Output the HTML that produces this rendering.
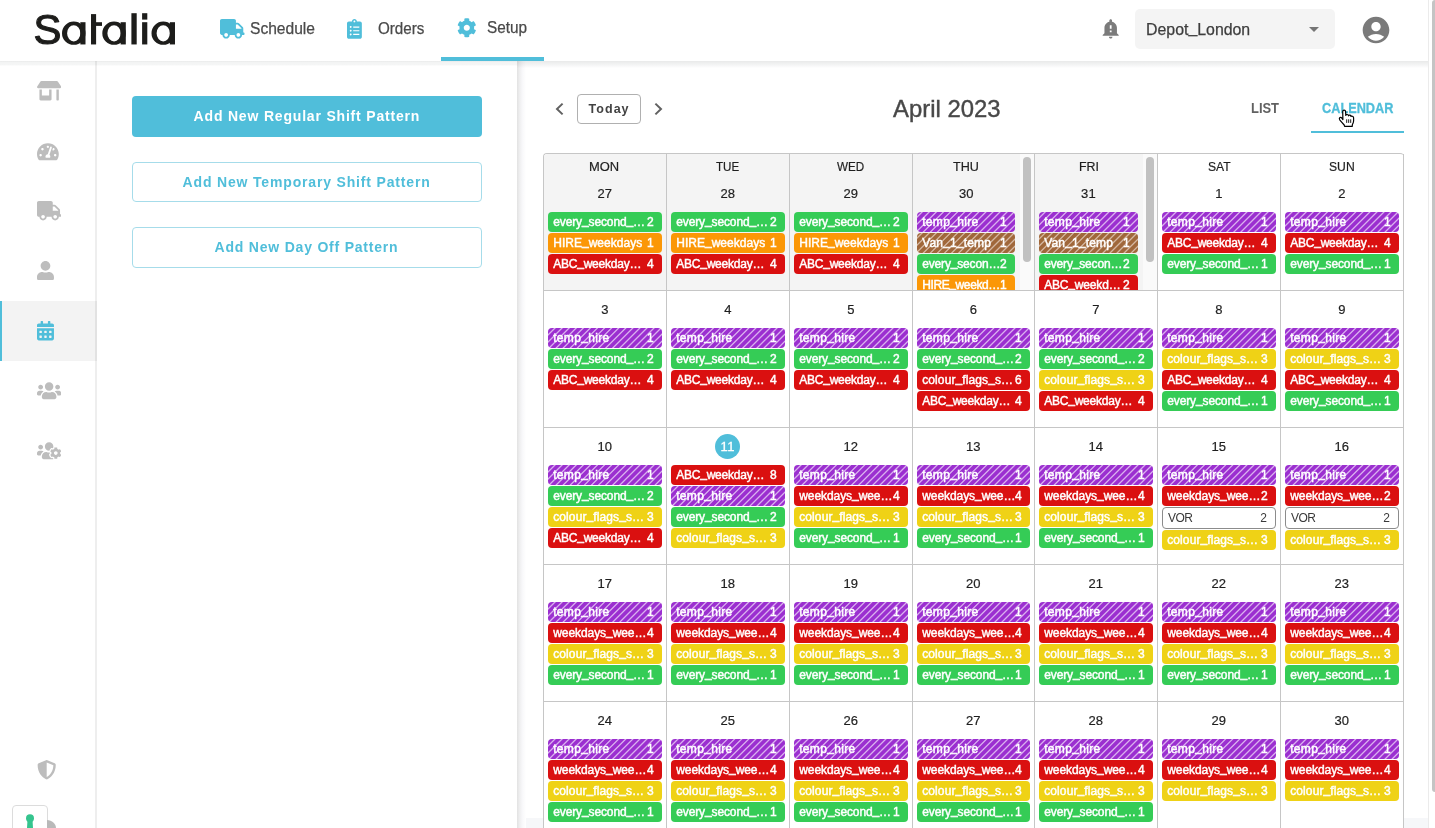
<!DOCTYPE html>
<html lang="en"><head><meta charset="utf-8"><title>Satalia - Setup</title>
<style>
html,body{margin:0;padding:0}
body{width:1435px;height:828px;overflow:hidden;position:relative;background:#fff;font-family:"Liberation Sans", sans-serif;}
.a{position:absolute}
.t{position:absolute;white-space:pre;}
.i{position:absolute;display:block}
u{text-decoration:none;position:relative;top:-0.13em}
.chip{position:absolute;height:20px;border-radius:4px;overflow:hidden}
.chip .t{color:#fff;font-size:12px;line-height:12px;top:3.85px;-webkit-text-stroke:0.45px #fff}
.vor{position:absolute;height:20px;border-radius:4px;border:1px solid #8c8c8c;background:#fff}
.vor .t{color:#3a3a3a;font-size:12px;line-height:12px;top:3.85px}
.g{background:#35cc56}.o{background:#fb9706}.r{background:#da1010}.y{background:#efd216}
.p{background:repeating-linear-gradient(-45deg,#9b2fd0 0.9px,#9b2fd0 3.700px,#d9b0ee 4.6px,#d9b0ee 5px,#9b2fd0 5.900px)}
.b{background:repeating-linear-gradient(-45deg,#a0673a 0.9px,#a0673a 3.700px,#d5b7a1 4.6px,#d5b7a1 5px,#a0673a 5.900px)}
#w{position:absolute;left:0;top:0;width:1435px;height:828px;overflow:hidden;will-change:transform}
</style></head><body><div id="w">
<div class="a" style="left:517px;top:61px;width:911px;height:767px;background:#fff"></div>
<div class="a" style="left:517px;top:818px;width:911px;height:10px;background:#f6f7f9"></div>
<div class="a" style="left:0;top:61px;width:517px;height:5px;background:linear-gradient(#ebecec 0,#eeefef 20%,#f3f4f4 30%,#f5f6f6 75%,#fff)"></div>
<div class="a" style="left:517px;top:61px;width:9px;height:767px;background:linear-gradient(90deg,#e2e2e2,#efeff0 30%,#f8f8fa 60%,#fff)"></div>
<div class="a" style="left:517px;top:61px;width:911px;height:7px;background:linear-gradient(rgba(20,30,30,0.095),rgba(20,30,40,0.045) 60%,rgba(0,0,0,0))"></div>
<div class="a" style="left:0;top:301px;width:97px;height:60px;background:#f3f3f3"></div>
<div class="a" style="left:0;top:301px;width:2px;height:60px;background:#50beda"></div>
<div class="a" style="left:95px;top:61px;width:2px;height:767px;background:rgba(0,0,0,0.065)"></div>
<svg class="i" style="left:36.80px;top:81.30px" width="24.25" height="19.40" viewBox="0 0 640 512"><path fill="#bdbdbd" d="M320 384H128V224H64v256c0 17.700 14.300 32 32 32h256c17.700 0 32-14.300 32-32V224h-64v160zm314.600-241.800l-85.300-128c-6-8.900-16-14.200-26.700-14.200H117.400c-10.700 0-20.700 5.300-26.600 14.200l-85.300 128c-14.200 21.300 1 49.800 26.600 49.800H608c25.500 0 40.700-28.500 26.600-49.800zM512 496c0 8.800 7.200 16 16 16h32c8.800 0 16-7.200 16-16V224h-64v272z"/></svg>
<svg class="i" style="left:36.80px;top:141.60px" width="21.82" height="19.40" viewBox="0 0 576 512"><path fill="#bdbdbd" d="M288 32C128.940 32 0 160.940 0 320c0 52.800 14.250 102.260 39.060 144.800 5.610 9.620 16.300 15.200 27.440 15.200h443c11.140 0 21.830-5.580 27.440-15.200C561.750 422.260 576 372.800 576 320c0-159.060-128.940-288-288-288zm0 64c14.710 0 26.580 10.130 30.320 23.650-1.110 2.260-2.640 4.230-3.450 6.670l-9.220 27.670c-5.130 3.490-10.970 6.010-17.640 6.010-17.670 0-32-14.330-32-32S270.330 96 288 96zM96 384c-17.670 0-32-14.330-32-32s14.330-32 32-32 32 14.330 32 32-14.330 32-32 32zm48-160c-17.670 0-32-14.330-32-32s14.330-32 32-32 32 14.330 32 32-14.330 32-32 32zm246.770-72.410l-61.330 184C343.130 347.330 352 364.540 352 384c0 11.720-3.380 22.550-8.880 32H232.880c-5.500-9.450-8.880-20.280-8.880-32 0-33.940 26.500-61.430 59.900-63.590l61.340-184.010c4.170-12.560 17.730-19.450 30.360-15.170 12.570 4.190 19.350 17.790 15.170 30.360zm14.660 57.200l15.520-46.550c3.470-1.290 7.130-2.230 11.050-2.230 17.670 0 32 14.330 32 32s-14.330 32-32 32c-11.380-.01-20.890-6.280-26.570-15.220zM480 384c-17.670 0-32-14.330-32-32s14.330-32 32-32 32 14.330 32 32-14.330 32-32 32z"/></svg>
<svg class="i" style="left:36.80px;top:201.30px" width="24.25" height="19.40" viewBox="0 0 640 512"><path fill="#bdbdbd" d="M624 352h-16V243.9c0-12.7-5.100-24.9-14.100-33.900L494 110.100c-9-9-21.200-14.100-33.900-14.100H416V48c0-26.500-21.500-48-48-48H48C21.500 0 0 21.500 0 48v320c0 26.500 21.500 48 48 48h16c0 53 43 96 96 96s96-43 96-96h128c0 53 43 96 96 96s96-43 96-96h48c8.800 0 16-7.200 16-16v-32c0-8.800-7.200-16-16-16zM160 464c-26.500 0-48-21.500-48-48s21.500-48 48-48 48 21.500 48 48-21.500 48-48 48zm320 0c-26.500 0-48-21.500-48-48s21.500-48 48-48 48 21.500 48 48-21.500 48-48 48zm80-208H416V144h44.100l99.900 99.900V256z"/></svg>
<svg class="i" style="left:36.80px;top:261.10px" width="16.97" height="19.40" viewBox="0 0 448 512"><path fill="#bdbdbd" d="M224 256c70.700 0 128-57.300 128-128S294.700 0 224 0 96 57.300 96 128s57.300 128 128 128zm89.600 32h-16.700c-22.200 10.200-46.900 16-72.900 16s-50.600-5.800-72.900-16h-16.700C60.200 288 0 348.200 0 422.400V464c0 26.500 21.500 48 48 48h352c26.500 0 48-21.500 48-48v-41.600c0-74.200-60.200-134.400-134.400-134.400z"/></svg>
<svg class="i" style="left:36.80px;top:321.30px" width="16.97" height="19.40" viewBox="0 0 448 512"><path fill="#50beda" d="M0 464c0 26.500 21.500 48 48 48h352c26.500 0 48-21.500 48-48V192H0v272zm320-196c0-6.600 5.400-12 12-12h40c6.600 0 12 5.400 12 12v40c0 6.600-5.400 12-12 12h-40c-6.600 0-12-5.400-12-12v-40zm0 128c0-6.600 5.400-12 12-12h40c6.600 0 12 5.400 12 12v40c0 6.600-5.400 12-12 12h-40c-6.600 0-12-5.400-12-12v-40zM192 268c0-6.600 5.400-12 12-12h40c6.600 0 12 5.400 12 12v40c0 6.600-5.400 12-12 12h-40c-6.600 0-12-5.400-12-12v-40zm0 128c0-6.600 5.400-12 12-12h40c6.600 0 12 5.400 12 12v40c0 6.600-5.400 12-12 12h-40c-6.600 0-12-5.400-12-12v-40zM64 268c0-6.600 5.400-12 12-12h40c6.600 0 12 5.400 12 12v40c0 6.600-5.400 12-12 12H76c-6.600 0-12-5.400-12-12v-40zm0 128c0-6.600 5.400-12 12-12h40c6.600 0 12 5.400 12 12v40c0 6.600-5.400 12-12 12H76c-6.600 0-12-5.400-12-12v-40zM400 64h-48V16c0-8.800-7.200-16-16-16h-32c-8.800 0-16 7.200-16 16v48H160V16c0-8.800-7.200-16-16-16h-32c-8.800 0-16 7.200-16 16v48H48C21.500 64 0 85.500 0 112v48h448v-48c0-26.500-21.500-48-48-48z"/></svg>
<svg class="i" style="left:36.80px;top:380.90px" width="24.25" height="19.40" viewBox="0 0 640 512"><path fill="#bdbdbd" d="M96 224c35.300 0 64-28.700 64-64s-28.700-64-64-64-64 28.700-64 64 28.700 64 64 64zm448 0c35.300 0 64-28.700 64-64s-28.700-64-64-64-64 28.700-64 64 28.700 64 64 64zm32 32h-64c-17.600 0-33.500 7.100-45.100 18.600 40.300 22.100 68.900 62 75.100 109.400h66c17.700 0 32-14.300 32-32v-32c0-35.300-28.700-64-64-64zm-256 0c61.900 0 112-50.100 112-112S381.900 32 320 32 208 82.100 208 144s50.100 112 112 112zm76.800 32h-8.300c-20.800 10-43.900 16-68.500 16s-47.600-6-68.500-16h-8.300C179.600 288 128 339.600 128 403.200V432c0 26.500 21.500 48 48 48h288c26.500 0 48-21.500 48-48v-28.800c0-63.600-51.600-115.200-115.200-115.200zm-223.700-13.400C161.500 263.100 145.600 256 128 256H64c-35.300 0-64 28.700-64 64v32c0 17.700 14.300 32 32 32h65.900c6.300-47.400 34.900-87.300 75.200-109.400z"/></svg>
<svg class="i" style="left:36.80px;top:441.30px" width="24.25" height="19.40" viewBox="0 0 640 512"><path fill="#bdbdbd" d="M610.5 341.3c2.600-14.100 2.600-28.500 0-42.600l25.800-14.900c3-1.700 4.300-5.200 3.300-8.500-6.700-21.600-18.200-41.200-33.200-57.400-2.300-2.500-6-3.100-9-1.400l-25.800 14.900c-10.900-9.300-23.400-16.500-36.900-21.300v-29.800c0-3.400-2.400-6.400-5.700-7.100-22.300-5-45-4.800-66.200 0-3.300.7-5.700 3.700-5.700 7.100v29.800c-13.500 4.800-26 12-36.900 21.300l-25.800-14.900c-2.900-1.700-6.700-1.100-9 1.400-15 16.200-26.500 35.800-33.200 57.400-1 3.300.4 6.800 3.300 8.500l25.800 14.900c-2.600 14.100-2.600 28.500 0 42.600l-25.800 14.900c-3 1.700-4.300 5.200-3.300 8.500 6.700 21.600 18.200 41.100 33.200 57.400 2.300 2.500 6 3.100 9 1.400l25.800-14.900c10.900 9.300 23.400 16.500 36.900 21.300v29.800c0 3.400 2.400 6.400 5.700 7.100 22.300 5 45 4.800 66.200 0 3.300-.7 5.700-3.700 5.700-7.100v-29.800c13.500-4.800 26-12 36.900-21.300l25.800 14.900c2.900 1.700 6.700 1.100 9-1.400 15-16.200 26.500-35.800 33.200-57.400 1-3.300-.4-6.800-3.300-8.500l-25.800-14.900zM496 368.500c-26.800 0-48.500-21.800-48.500-48.500s21.800-48.500 48.500-48.500 48.500 21.800 48.500 48.500-21.700 48.500-48.500 48.500zM96 224c35.300 0 64-28.700 64-64s-28.700-64-64-64-64 28.700-64 64 28.700 64 64 64zm224 32c1.900 0 3.700-.5 5.600-.6 8.300-21.700 20.500-42.100 36.300-59.200 7.400-8 17.900-12.600 28.900-12.600 6.900 0 13.700 1.800 19.600 5.300l7.900 4.600c.8-.5 1.600-.9 2.400-1.400 7-14.600 11.200-30.800 11.200-48 0-61.900-50.100-112-112-112S208 82.100 208 144c0 61.900 50.100 112 112 112zm105.200 194.500c-2.300-1.200-4.600-2.600-6.800-3.900-8.200 4.800-15.300 9.800-27.500 9.800-10.900 0-21.400-4.600-28.900-12.600-18.300-19.800-32.300-43.900-40.200-69.600-10.700-34.500 24.900-49.700 25.800-50.300-.1-2.600-.1-5.200 0-7.800l-7.900-4.600c-3.800-2.200-7-5-9.800-8.100-3.300.2-6.500.6-9.800.6-24.600 0-47.600-6-68.500-16h-8.300C179.600 288 128 339.600 128 403.200V432c0 26.500 21.500 48 48 48h255.400c-3.700-6-6.200-12.800-6.200-20.300v-9.200zM173.100 274.600C161.500 263.100 145.600 256 128 256H64c-35.300 0-64 28.700-64 64v32c0 17.700 14.300 32 32 32h65.900c6.300-47.400 34.900-87.300 75.200-109.400z"/></svg>
<svg class="i" style="left:37.00px;top:760.20px" width="19.40" height="19.40" viewBox="0 0 512 512"><path fill="#bdbdbd" d="M466.5 83.700l-192-80a48.150 48.150 0 0 0-36.900 0l-192 80C27.700 91.100 16 108.600 16 128c0 198.500 114.500 335.700 221.500 380.300 11.800 4.900 25.100 4.900 36.900 0C360.100 472.600 496 349.300 496 128c0-19.400-11.700-36.900-29.500-44.300zM256.100 446.300l-.1-381 175.900 73.300c-3.300 151.400-82.100 261.100-175.800 307.700z"/></svg>
<div class="a" style="left:12px;top:805px;width:34px;height:30px;border:1px solid #dcdcdc;border-radius:4px;background:#fff"></div>
<svg class="i" style="left:20px;top:810px" width="20" height="18" viewBox="0 0 20 18"><circle cx="10" cy="8.3" r="4" fill="#35c48e"/><path d="M7.6 9 L12.400 9 L13 18 L7 18Z" fill="#35c48e"/></svg>
<svg class="i" style="left:47px;top:818px" width="12" height="10" viewBox="0 0 12 10"><path d="M0 2 C5 2 9 6 9 10 L0 10Z" fill="#b9b9b9"/></svg>
<div class="a" style="left:0;top:0;width:1428px;height:61px;background:#fff"></div>
<div class="a" style="left:441px;top:57px;width:103px;height:4px;background:#50beda"></div>
<svg class="i" style="left:30px;top:6px" width="150" height="46" viewBox="30 6 150 46"><text x="33.5" y="44.25" font-family='"Liberation Sans", sans-serif' font-size="41.8" fill="#1d1d1b" stroke="#1d1d1b" stroke-width="1.15" stroke-linejoin="round">S</text><path fill="#1d1d1b" fill-rule="evenodd" d="M62.0 33.2a11.75 11.6 0 1 0 23.500 0a11.75 11.6 0 1 0 -23.500 0zM67.1 33.3a6.65 8.15 0 1 0 13.300 0a6.65 8.15 0 1 0 -13.300 0z"/><rect x="80.35" y="22.2" width="5.15" height="22.25" fill="#1d1d1b"/><path fill="#1d1d1b" fill-rule="evenodd" d="M102.3 33.2a11.75 11.6 0 1 0 23.500 0a11.75 11.6 0 1 0 -23.500 0zM107.39999999999999 33.3a6.65 8.15 0 1 0 13.300 0a6.65 8.15 0 1 0 -13.300 0z"/><rect x="120.64999999999999" y="22.2" width="5.15" height="22.25" fill="#1d1d1b"/><path fill="#1d1d1b" fill-rule="evenodd" d="M151.5 33.2a11.75 11.6 0 1 0 23.500 0a11.75 11.6 0 1 0 -23.500 0zM156.6 33.3a6.65 8.15 0 1 0 13.300 0a6.65 8.15 0 1 0 -13.300 0z"/><rect x="169.85" y="22.2" width="5.15" height="22.25" fill="#1d1d1b"/><rect x="91" y="14.100" width="5.100" height="30.35" fill="#1d1d1b"/><rect x="91" y="22.2" width="11" height="3.700" fill="#1d1d1b"/><rect x="131.4" y="13.2" width="5.300" height="31.25" fill="#1d1d1b"/><rect x="142.100" y="13.2" width="5.200" height="6.400" fill="#1d1d1b"/><rect x="142.100" y="22.2" width="5.200" height="22.25" fill="#1d1d1b"/></svg>
<svg class="i" style="left:220.00px;top:19.00px" width="24.50" height="19.60" viewBox="0 0 640 512"><path fill="#50beda" d="M624 352h-16V243.9c0-12.7-5.100-24.9-14.100-33.900L494 110.100c-9-9-21.200-14.100-33.900-14.100H416V48c0-26.500-21.500-48-48-48H48C21.500 0 0 21.500 0 48v320c0 26.500 21.500 48 48 48h16c0 53 43 96 96 96s96-43 96-96h128c0 53 43 96 96 96s96-43 96-96h48c8.800 0 16-7.200 16-16v-32c0-8.800-7.200-16-16-16zM160 464c-26.500 0-48-21.500-48-48s21.500-48 48-48 48 21.500 48 48-21.500 48-48 48zm320 0c-26.500 0-48-21.500-48-48s21.500-48 48-48 48 21.500 48 48-21.500 48-48 48zm80-208H416V144h44.100l99.900 99.900V256z"/></svg>
<span class="t" style="left:250.40px;top:20.61px;font-size:16px;line-height:16px;font-weight:400;color:#4a4a4a;transform:scaleX(0.9743);transform-origin:0 0;-webkit-text-stroke:0.25px #4a4a4a">Schedule</span>
<svg class="i" style="left:347.00px;top:19.10px" width="14.85" height="19.80" viewBox="0 0 384 512"><path fill="#50beda" d="M336 64h-80c0-35.300-28.700-64-64-64s-64 28.700-64 64H48C21.500 64 0 85.500 0 112v352c0 26.500 21.500 48 48 48h288c26.500 0 48-21.500 48-48V112c0-26.500-21.500-48-48-48zM96 424c-13.300 0-24-10.700-24-24s10.700-24 24-24 24 10.700 24 24-10.700 24-24 24zm0-96c-13.300 0-24-10.700-24-24s10.700-24 24-24 24 10.700 24 24-10.700 24-24 24zm0-96c-13.300 0-24-10.700-24-24s10.700-24 24-24 24 10.700 24 24-10.700 24-24 24zm96-192c13.300 0 24 10.700 24 24s-10.700 24-24 24-24-10.700-24-24 10.700-24 24-24zm128 368c0 4.400-3.600 8-8 8H168c-4.400 0-8-3.600-8-8v-16c0-4.400 3.600-8 8-8h144c4.400 0 8 3.600 8 8v16zm0-96c0 4.400-3.600 8-8 8H168c-4.400 0-8-3.600-8-8v-16c0-4.400 3.600-8 8-8h144c4.400 0 8 3.600 8 8v16zm0-96c0 4.400-3.600 8-8 8H168c-4.400 0-8-3.600-8-8v-16c0-4.400 3.600-8 8-8h144c4.400 0 8 3.600 8 8v16z"/></svg>
<span class="t" style="left:378.00px;top:20.61px;font-size:16px;line-height:16px;font-weight:400;color:#4a4a4a;transform:scaleX(0.9489);transform-origin:0 0;-webkit-text-stroke:0.25px #4a4a4a">Orders</span>
<svg class="i" style="left:456.70px;top:18.10px" width="19.60" height="19.60" viewBox="0 0 512 512"><path fill="#50beda" d="M487.4 315.7l-42.600-24.600c4.300-23.200 4.300-47 0-70.200l42.600-24.600c4.900-2.800 7.100-8.600 5.500-14-11.100-35.600-30-67.800-54.700-94.600-3.800-4.100-10-5.100-14.800-2.300L380.800 110c-17.900-15.400-38.500-27.300-60.800-35.100V25.800c0-5.600-3.900-10.500-9.400-11.700-36.700-8.200-74.300-7.800-109.200 0-5.500 1.200-9.400 6.100-9.400 11.700V75c-22.200 7.900-42.800 19.800-60.800 35.100L88.700 85.500c-4.900-2.800-11-1.900-14.800 2.300-24.700 26.700-43.600 58.900-54.700 94.600-1.700 5.400.6 11.200 5.500 14L67.300 221c-4.300 23.200-4.300 47 0 70.200l-42.600 24.600c-4.900 2.800-7.100 8.600-5.500 14 11.100 35.600 30 67.800 54.700 94.600 3.800 4.100 10 5.100 14.800 2.300l42.600-24.600c17.900 15.400 38.500 27.300 60.800 35.100v49.200c0 5.600 3.900 10.500 9.400 11.700 36.700 8.200 74.300 7.800 109.200 0 5.500-1.200 9.400-6.100 9.400-11.700v-49.200c22.200-7.900 42.800-19.800 60.800-35.100l42.600 24.600c4.900 2.800 11 1.900 14.800-2.300 24.700-26.700 43.600-58.900 54.700-94.600 1.500-5.500-.7-11.300-5.600-14.100zM256 336c-44.100 0-80-35.900-80-80s35.900-80 80-80 80 35.900 80 80-35.900 80-80 80z"/></svg>
<span class="t" style="left:487.10px;top:19.61px;font-size:16px;line-height:16px;font-weight:400;color:#4a4a4a;transform:scaleX(0.9567);transform-origin:0 0;-webkit-text-stroke:0.25px #4a4a4a">Setup</span>
<svg class="i" style="left:1100.1px;top:17.8px" width="21.4" height="21.4" viewBox="0 0 24 24"><path fill="#7b7b7b" d="M12 23c1.100 0 1.990-.890 1.990-1.990h-3.980c0 1.100.890 1.990 1.990 1.990zm7-6v-6c0-3.350-2.360-6.150-5.500-6.830V3c0-.830-.670-1.500-1.500-1.500s-1.500.670-1.500 1.500v1.170C7.360 4.850 5 7.650 5 11v6l-2 2v1h18v-1l-2-2zm-6-1h-2v-2h2v2zm0-4h-2V8h2v4z"/></svg>
<div class="a" style="left:1135px;top:9px;width:200px;height:40px;border-radius:5px;background:#f4f4f4"></div>
<span class="t" style="left:1146.11px;top:21.61px;font-size:16px;line-height:16px;font-weight:400;color:#3d3d3d;transform:scaleX(0.9924);transform-origin:0 0;-webkit-text-stroke:0.25px #3d3d3d">Depot<u>_</u>London</span>
<svg class="i" style="left:1309px;top:27px" width="10" height="5" viewBox="0 0 10 5"><path d="M0 0h10L5 5z" fill="#757575"/></svg>
<svg class="i" style="left:1359.6px;top:13.5px" width="32" height="32" viewBox="0 0 24 24"><path fill="#7a7a7a" d="M12 2C6.480 2 2 6.480 2 12s4.480 10 10 10 10-4.480 10-10S17.520 2 12 2zm0 4c1.930 0 3.500 1.570 3.500 3.500S13.930 13 12 13s-3.500-1.570-3.500-3.500S10.070 6 12 6zm0 14c-2.030 0-4.430-.820-6.140-2.880C7.550 15.800 9.680 15 12 15s4.450.800 6.140 2.120C16.430 19.180 14.030 20 12 20z"/></svg>
<div class="a" style="left:1428px;top:0;width:1px;height:828px;background:#ebebeb"></div>
<div class="a" style="left:1432px;top:0;width:6px;height:792px;border-radius:3px;background:#c4c4c4"></div>
<div class="a" style="left:132px;top:96px;width:350px;height:41px;border-radius:4px;background:#50beda"></div>
<span class="t" style="left:193.60px;top:109.30px;font-size:14px;line-height:14px;letter-spacing:0.813px;font-weight:700;color:#fff;">Add New Regular Shift Pattern</span>
<div class="a" style="left:132px;top:162px;width:348px;height:38px;border-radius:4px;border:1px solid #a6dcea;background:#fff"></div>
<span class="t" style="left:182.60px;top:175.30px;font-size:14px;line-height:14px;letter-spacing:0.832px;font-weight:700;color:#50beda;">Add New Temporary Shift Pattern</span>
<div class="a" style="left:132px;top:227px;width:348px;height:39px;border-radius:4px;border:1px solid #a6dcea;background:#fff"></div>
<span class="t" style="left:214.60px;top:240.30px;font-size:14px;line-height:14px;letter-spacing:0.787px;font-weight:700;color:#50beda;">Add New Day Off Pattern</span>
<svg class="i" style="left:554px;top:102px" width="12" height="14" viewBox="0 0 12 14"><path d="M8.600 1.600 L3 7 L8.600 12.400" fill="none" stroke="#616161" stroke-width="2"/></svg>
<svg class="i" style="left:652px;top:102px" width="12" height="14" viewBox="0 0 12 14"><path d="M3.400 1.600 L9 7 L3.400 12.400" fill="none" stroke="#616161" stroke-width="2"/></svg>
<div class="a" style="left:577px;top:94px;width:62px;height:28px;border:1px solid #b0b0b0;border-radius:4px;background:#fff"></div>
<span class="t" style="left:588.60px;top:102.57px;font-size:12.5px;line-height:12.5px;letter-spacing:1.022px;font-weight:700;color:#424242;">Today</span>
<span class="t" style="left:892.90px;top:96.83px;font-size:24px;line-height:24px;font-weight:400;color:#484848;transform:scaleX(0.9951);transform-origin:0 0;-webkit-text-stroke:0.4px #484848">April 2023</span>
<span class="t" style="left:1250.70px;top:101.30px;font-size:14px;line-height:14px;font-weight:700;color:#616161;transform:scaleX(0.9227);transform-origin:0 0;">LIST</span>
<span class="t" style="left:1322.10px;top:101.30px;font-size:14px;line-height:14px;font-weight:700;color:#50beda;transform:scaleX(0.9090);transform-origin:0 0;-webkit-text-stroke:0.3px #50beda">CALENDAR</span>
<div class="a" style="left:1311px;top:131px;width:93px;height:2px;background:#50beda"></div>
<svg class="i" style="left:1338px;top:109px" width="18" height="19" viewBox="0 0 18 19"><path d="M4.900 10.600 L4.700 2.600 Q4.800 1.200 6.100 1.200 Q7.500 1.200 7.600 2.600 L7.800 6.400 Q8 5.400 9.200 5.500 Q10.400 5.600 10.500 6.800 Q10.800 6 11.900 6.200 Q13 6.400 13 7.500 Q13.400 6.900 14.400 7.200 Q15.600 7.600 15.600 8.800 L15.600 12 Q15.400 13.800 14.400 15.500 L14.200 17.400 L6.600 17.400 L6.200 16 Q4 13.500 1.700 10.800 Q0.900 9.500 1.800 8.600 Q2.900 7.900 3.800 9 Z" fill="#fff" stroke="#000" stroke-width="1.2" stroke-linejoin="round"/><path d="M8.700 10.300V13.900M10.700 10.300V13.900M12.700 10.300V13.900" stroke="#000" stroke-width="0.9" fill="none"/></svg>
<div class="a" style="left:543px;top:153px;width:861px;height:690px;background:#fff;border-left:1px solid #c6c6c6;border-top:1px solid #c6c6c6;border-radius:4px 4px 0 0;box-sizing:border-box"></div>
<div class="a" style="left:544px;top:154px;width:476px;height:136px;background:#f4f4f4;border-radius:3px 0 0 0"></div>
<div class="a" style="left:1020px;top:154px;width:14px;height:136px;background:#fafafa"></div>
<div class="a" style="left:1035px;top:154px;width:108px;height:136px;background:#f4f4f4"></div>
<div class="a" style="left:1143px;top:154px;width:14px;height:136px;background:#fafafa"></div>
<div class="a" style="left:1023px;top:157px;width:8px;height:105px;border-radius:4px;background:#c1c1c1"></div>
<div class="a" style="left:1146px;top:157px;width:8px;height:105px;border-radius:4px;background:#c1c1c1"></div>
<div class="a" style="left:666px;top:154px;width:1px;height:680px;background:#c6c6c6"></div>
<div class="a" style="left:789px;top:154px;width:1px;height:680px;background:#c6c6c6"></div>
<div class="a" style="left:912px;top:154px;width:1px;height:680px;background:#c6c6c6"></div>
<div class="a" style="left:1034px;top:154px;width:1px;height:680px;background:#c6c6c6"></div>
<div class="a" style="left:1157px;top:154px;width:1px;height:680px;background:#c6c6c6"></div>
<div class="a" style="left:1280px;top:154px;width:1px;height:680px;background:#c6c6c6"></div>
<div class="a" style="left:1403px;top:154px;width:1px;height:680px;background:#c6c6c6"></div>
<div class="a" style="left:544px;top:290px;width:860px;height:1px;background:#c6c6c6"></div>
<div class="a" style="left:544px;top:427px;width:860px;height:1px;background:#c6c6c6"></div>
<div class="a" style="left:544px;top:564px;width:860px;height:1px;background:#c6c6c6"></div>
<div class="a" style="left:544px;top:701px;width:860px;height:1px;background:#c6c6c6"></div>
<span class="t" style="left:589.40px;top:160.15px;font-size:13px;line-height:13px;font-weight:400;color:#1f1f1f;transform:scaleX(0.9951);transform-origin:0 0;-webkit-text-stroke:0.2px #1f1f1f">MON</span>
<span class="t" style="left:716.30px;top:160.15px;font-size:13px;line-height:13px;font-weight:400;color:#1f1f1f;transform:scaleX(0.8925);transform-origin:0 0;-webkit-text-stroke:0.2px #1f1f1f">TUE</span>
<span class="t" style="left:837.20px;top:160.15px;font-size:13px;line-height:13px;font-weight:400;color:#1f1f1f;transform:scaleX(0.8984);transform-origin:0 0;-webkit-text-stroke:0.2px #1f1f1f">WED</span>
<span class="t" style="left:953.40px;top:160.15px;font-size:13px;line-height:13px;font-weight:400;color:#1f1f1f;transform:scaleX(0.9685);transform-origin:0 0;-webkit-text-stroke:0.2px #1f1f1f">THU</span>
<span class="t" style="left:1078.55px;top:160.15px;font-size:13px;line-height:13px;font-weight:400;color:#1f1f1f;transform:scaleX(0.9519);transform-origin:0 0;-webkit-text-stroke:0.2px #1f1f1f">FRI</span>
<span class="t" style="left:1207.60px;top:160.15px;font-size:13px;line-height:13px;font-weight:400;color:#1f1f1f;transform:scaleX(0.9353);transform-origin:0 0;-webkit-text-stroke:0.2px #1f1f1f">SAT</span>
<span class="t" style="left:1329.30px;top:160.15px;font-size:13px;line-height:13px;font-weight:400;color:#1f1f1f;transform:scaleX(0.9350);transform-origin:0 0;-webkit-text-stroke:0.2px #1f1f1f">SUN</span>
<span class="t" style="left:597.50px;top:187.15px;font-size:13px;line-height:13px;letter-spacing:0.066px;font-weight:400;color:#1f1f1f;-webkit-text-stroke:0.2px #1f1f1f">27</span>
<div class="chip g" style="left:548px;top:212px;width:114px;"><span class="t" style="left:5.20px;top:-10.01px;font-size:12px;line-height:12px;letter-spacing:-0.114px;font-weight:400;color:#000;top:3.85px;color:#fff">every<u>_</u>second<u>_</u>…</span><span class="t" style="left:0.00px;top:-10.01px;font-size:12px;line-height:12px;letter-spacing:0.000px;font-weight:400;color:#000;top:3.85px;left:auto;right:8.4px;color:#fff">2</span></div>
<div class="chip o" style="left:548px;top:233px;width:114px;"><span class="t" style="left:5.20px;top:-10.01px;font-size:12px;line-height:12px;letter-spacing:0.022px;font-weight:400;color:#000;top:3.85px;color:#fff">HIRE<u>_</u>weekdays</span><span class="t" style="left:0.00px;top:-10.01px;font-size:12px;line-height:12px;letter-spacing:0.000px;font-weight:400;color:#000;top:3.85px;left:auto;right:8.4px;color:#fff">1</span></div>
<div class="chip r" style="left:548px;top:254px;width:114px;"><span class="t" style="left:5.20px;top:-10.01px;font-size:12px;line-height:12px;letter-spacing:-0.227px;font-weight:400;color:#000;top:3.85px;color:#fff">ABC<u>_</u>weekday…</span><span class="t" style="left:0.00px;top:-10.01px;font-size:12px;line-height:12px;letter-spacing:0.000px;font-weight:400;color:#000;top:3.85px;left:auto;right:8.4px;color:#fff">4</span></div>
<span class="t" style="left:720.50px;top:187.15px;font-size:13px;line-height:13px;letter-spacing:0.066px;font-weight:400;color:#1f1f1f;-webkit-text-stroke:0.2px #1f1f1f">28</span>
<div class="chip g" style="left:671px;top:212px;width:114px;"><span class="t" style="left:5.20px;top:-10.01px;font-size:12px;line-height:12px;letter-spacing:-0.114px;font-weight:400;color:#000;top:3.85px;color:#fff">every<u>_</u>second<u>_</u>…</span><span class="t" style="left:0.00px;top:-10.01px;font-size:12px;line-height:12px;letter-spacing:0.000px;font-weight:400;color:#000;top:3.85px;left:auto;right:8.4px;color:#fff">2</span></div>
<div class="chip o" style="left:671px;top:233px;width:114px;"><span class="t" style="left:5.20px;top:-10.01px;font-size:12px;line-height:12px;letter-spacing:0.022px;font-weight:400;color:#000;top:3.85px;color:#fff">HIRE<u>_</u>weekdays</span><span class="t" style="left:0.00px;top:-10.01px;font-size:12px;line-height:12px;letter-spacing:0.000px;font-weight:400;color:#000;top:3.85px;left:auto;right:8.4px;color:#fff">1</span></div>
<div class="chip r" style="left:671px;top:254px;width:114px;"><span class="t" style="left:5.20px;top:-10.01px;font-size:12px;line-height:12px;letter-spacing:-0.227px;font-weight:400;color:#000;top:3.85px;color:#fff">ABC<u>_</u>weekday…</span><span class="t" style="left:0.00px;top:-10.01px;font-size:12px;line-height:12px;letter-spacing:0.000px;font-weight:400;color:#000;top:3.85px;left:auto;right:8.4px;color:#fff">4</span></div>
<span class="t" style="left:843.50px;top:187.15px;font-size:13px;line-height:13px;letter-spacing:0.066px;font-weight:400;color:#1f1f1f;-webkit-text-stroke:0.2px #1f1f1f">29</span>
<div class="chip g" style="left:794px;top:212px;width:114px;"><span class="t" style="left:5.20px;top:-10.01px;font-size:12px;line-height:12px;letter-spacing:-0.114px;font-weight:400;color:#000;top:3.85px;color:#fff">every<u>_</u>second<u>_</u>…</span><span class="t" style="left:0.00px;top:-10.01px;font-size:12px;line-height:12px;letter-spacing:0.000px;font-weight:400;color:#000;top:3.85px;left:auto;right:8.4px;color:#fff">2</span></div>
<div class="chip o" style="left:794px;top:233px;width:114px;"><span class="t" style="left:5.20px;top:-10.01px;font-size:12px;line-height:12px;letter-spacing:0.022px;font-weight:400;color:#000;top:3.85px;color:#fff">HIRE<u>_</u>weekdays</span><span class="t" style="left:0.00px;top:-10.01px;font-size:12px;line-height:12px;letter-spacing:0.000px;font-weight:400;color:#000;top:3.85px;left:auto;right:8.4px;color:#fff">1</span></div>
<div class="chip r" style="left:794px;top:254px;width:114px;"><span class="t" style="left:5.20px;top:-10.01px;font-size:12px;line-height:12px;letter-spacing:-0.227px;font-weight:400;color:#000;top:3.85px;color:#fff">ABC<u>_</u>weekday…</span><span class="t" style="left:0.00px;top:-10.01px;font-size:12px;line-height:12px;letter-spacing:0.000px;font-weight:400;color:#000;top:3.85px;left:auto;right:8.4px;color:#fff">4</span></div>
<span class="t" style="left:959.00px;top:187.15px;font-size:13px;line-height:13px;letter-spacing:0.066px;font-weight:400;color:#1f1f1f;-webkit-text-stroke:0.2px #1f1f1f">30</span>
<div class="chip p" style="left:917px;top:212px;width:98px;"><span class="t" style="left:5.20px;top:-10.01px;font-size:12px;line-height:12px;letter-spacing:0.336px;font-weight:400;color:#000;top:3.85px;color:#fff">temp<u>_</u>hire</span><span class="t" style="left:0.00px;top:-10.01px;font-size:12px;line-height:12px;letter-spacing:0.000px;font-weight:400;color:#000;top:3.85px;left:auto;right:8.4px;color:#fff">1</span></div>
<div class="chip b" style="left:917px;top:233px;width:98px;"><span class="t" style="left:5.20px;top:-10.01px;font-size:12px;line-height:12px;letter-spacing:0.163px;font-weight:400;color:#000;top:3.85px;color:#fff">Van<u>_</u>1<u>_</u>temp</span><span class="t" style="left:0.00px;top:-10.01px;font-size:12px;line-height:12px;letter-spacing:0.000px;font-weight:400;color:#000;top:3.85px;left:auto;right:8.4px;color:#fff">1</span></div>
<div class="chip g" style="left:917px;top:254px;width:98px;"><span class="t" style="left:5.20px;top:-10.01px;font-size:12px;line-height:12px;letter-spacing:-0.162px;font-weight:400;color:#000;top:3.85px;color:#fff">every<u>_</u>secon…</span><span class="t" style="left:0.00px;top:-10.01px;font-size:12px;line-height:12px;letter-spacing:0.000px;font-weight:400;color:#000;top:3.85px;left:auto;right:8.4px;color:#fff">2</span></div>
<div class="chip o" style="left:917px;top:275px;width:98px;height:15px;border-radius:4px 4px 0 0;"><span class="t" style="left:5.20px;top:-10.01px;font-size:12px;line-height:12px;letter-spacing:-0.394px;font-weight:400;color:#000;top:3.85px;color:#fff">HIRE<u>_</u>weekd…</span><span class="t" style="left:0.00px;top:-10.01px;font-size:12px;line-height:12px;letter-spacing:0.000px;font-weight:400;color:#000;top:3.85px;left:auto;right:8.4px;color:#fff">1</span></div>
<span class="t" style="left:1081.10px;top:187.15px;font-size:13px;line-height:13px;letter-spacing:0.066px;font-weight:400;color:#1f1f1f;-webkit-text-stroke:0.2px #1f1f1f">31</span>
<div class="chip p" style="left:1039px;top:212px;width:99px;"><span class="t" style="left:5.20px;top:-10.01px;font-size:12px;line-height:12px;letter-spacing:0.336px;font-weight:400;color:#000;top:3.85px;color:#fff">temp<u>_</u>hire</span><span class="t" style="left:0.00px;top:-10.01px;font-size:12px;line-height:12px;letter-spacing:0.000px;font-weight:400;color:#000;top:3.85px;left:auto;right:8.4px;color:#fff">1</span></div>
<div class="chip b" style="left:1039px;top:233px;width:99px;"><span class="t" style="left:5.20px;top:-10.01px;font-size:12px;line-height:12px;letter-spacing:0.163px;font-weight:400;color:#000;top:3.85px;color:#fff">Van<u>_</u>1<u>_</u>temp</span><span class="t" style="left:0.00px;top:-10.01px;font-size:12px;line-height:12px;letter-spacing:0.000px;font-weight:400;color:#000;top:3.85px;left:auto;right:8.4px;color:#fff">1</span></div>
<div class="chip g" style="left:1039px;top:254px;width:99px;"><span class="t" style="left:5.20px;top:-10.01px;font-size:12px;line-height:12px;letter-spacing:-0.162px;font-weight:400;color:#000;top:3.85px;color:#fff">every<u>_</u>secon…</span><span class="t" style="left:0.00px;top:-10.01px;font-size:12px;line-height:12px;letter-spacing:0.000px;font-weight:400;color:#000;top:3.85px;left:auto;right:8.4px;color:#fff">2</span></div>
<div class="chip r" style="left:1039px;top:275px;width:99px;height:15px;border-radius:4px 4px 0 0;"><span class="t" style="left:5.20px;top:-10.01px;font-size:12px;line-height:12px;letter-spacing:-0.175px;font-weight:400;color:#000;top:3.85px;color:#fff">ABC<u>_</u>weekd…</span><span class="t" style="left:0.00px;top:-10.01px;font-size:12px;line-height:12px;letter-spacing:0.000px;font-weight:400;color:#000;top:3.85px;left:auto;right:8.4px;color:#fff">2</span></div>
<span class="t" style="left:1215.15px;top:187.15px;font-size:13px;line-height:13px;letter-spacing:0.066px;font-weight:400;color:#1f1f1f;-webkit-text-stroke:0.2px #1f1f1f">1</span>
<div class="chip p" style="left:1162px;top:212px;width:114px;"><span class="t" style="left:5.20px;top:-10.01px;font-size:12px;line-height:12px;letter-spacing:0.336px;font-weight:400;color:#000;top:3.85px;color:#fff">temp<u>_</u>hire</span><span class="t" style="left:0.00px;top:-10.01px;font-size:12px;line-height:12px;letter-spacing:0.000px;font-weight:400;color:#000;top:3.85px;left:auto;right:8.4px;color:#fff">1</span></div>
<div class="chip r" style="left:1162px;top:233px;width:114px;"><span class="t" style="left:5.20px;top:-10.01px;font-size:12px;line-height:12px;letter-spacing:-0.227px;font-weight:400;color:#000;top:3.85px;color:#fff">ABC<u>_</u>weekday…</span><span class="t" style="left:0.00px;top:-10.01px;font-size:12px;line-height:12px;letter-spacing:0.000px;font-weight:400;color:#000;top:3.85px;left:auto;right:8.4px;color:#fff">4</span></div>
<div class="chip g" style="left:1162px;top:254px;width:114px;"><span class="t" style="left:5.20px;top:-10.01px;font-size:12px;line-height:12px;letter-spacing:-0.114px;font-weight:400;color:#000;top:3.85px;color:#fff">every<u>_</u>second<u>_</u>…</span><span class="t" style="left:0.00px;top:-10.01px;font-size:12px;line-height:12px;letter-spacing:0.000px;font-weight:400;color:#000;top:3.85px;left:auto;right:8.4px;color:#fff">1</span></div>
<span class="t" style="left:1338.15px;top:187.15px;font-size:13px;line-height:13px;letter-spacing:0.066px;font-weight:400;color:#1f1f1f;-webkit-text-stroke:0.2px #1f1f1f">2</span>
<div class="chip p" style="left:1285px;top:212px;width:114px;"><span class="t" style="left:5.20px;top:-10.01px;font-size:12px;line-height:12px;letter-spacing:0.336px;font-weight:400;color:#000;top:3.85px;color:#fff">temp<u>_</u>hire</span><span class="t" style="left:0.00px;top:-10.01px;font-size:12px;line-height:12px;letter-spacing:0.000px;font-weight:400;color:#000;top:3.85px;left:auto;right:8.4px;color:#fff">1</span></div>
<div class="chip r" style="left:1285px;top:233px;width:114px;"><span class="t" style="left:5.20px;top:-10.01px;font-size:12px;line-height:12px;letter-spacing:-0.227px;font-weight:400;color:#000;top:3.85px;color:#fff">ABC<u>_</u>weekday…</span><span class="t" style="left:0.00px;top:-10.01px;font-size:12px;line-height:12px;letter-spacing:0.000px;font-weight:400;color:#000;top:3.85px;left:auto;right:8.4px;color:#fff">4</span></div>
<div class="chip g" style="left:1285px;top:254px;width:114px;"><span class="t" style="left:5.20px;top:-10.01px;font-size:12px;line-height:12px;letter-spacing:-0.114px;font-weight:400;color:#000;top:3.85px;color:#fff">every<u>_</u>second<u>_</u>…</span><span class="t" style="left:0.00px;top:-10.01px;font-size:12px;line-height:12px;letter-spacing:0.000px;font-weight:400;color:#000;top:3.85px;left:auto;right:8.4px;color:#fff">1</span></div>
<span class="t" style="left:601.15px;top:303.15px;font-size:13px;line-height:13px;letter-spacing:0.066px;font-weight:400;color:#1f1f1f;-webkit-text-stroke:0.2px #1f1f1f">3</span>
<div class="chip p" style="left:548px;top:328px;width:114px;"><span class="t" style="left:5.20px;top:-10.01px;font-size:12px;line-height:12px;letter-spacing:0.336px;font-weight:400;color:#000;top:3.85px;color:#fff">temp<u>_</u>hire</span><span class="t" style="left:0.00px;top:-10.01px;font-size:12px;line-height:12px;letter-spacing:0.000px;font-weight:400;color:#000;top:3.85px;left:auto;right:8.4px;color:#fff">1</span></div>
<div class="chip g" style="left:548px;top:349px;width:114px;"><span class="t" style="left:5.20px;top:-10.01px;font-size:12px;line-height:12px;letter-spacing:-0.114px;font-weight:400;color:#000;top:3.85px;color:#fff">every<u>_</u>second<u>_</u>…</span><span class="t" style="left:0.00px;top:-10.01px;font-size:12px;line-height:12px;letter-spacing:0.000px;font-weight:400;color:#000;top:3.85px;left:auto;right:8.4px;color:#fff">2</span></div>
<div class="chip r" style="left:548px;top:370px;width:114px;"><span class="t" style="left:5.20px;top:-10.01px;font-size:12px;line-height:12px;letter-spacing:-0.227px;font-weight:400;color:#000;top:3.85px;color:#fff">ABC<u>_</u>weekday…</span><span class="t" style="left:0.00px;top:-10.01px;font-size:12px;line-height:12px;letter-spacing:0.000px;font-weight:400;color:#000;top:3.85px;left:auto;right:8.4px;color:#fff">4</span></div>
<span class="t" style="left:724.15px;top:303.15px;font-size:13px;line-height:13px;letter-spacing:0.066px;font-weight:400;color:#1f1f1f;-webkit-text-stroke:0.2px #1f1f1f">4</span>
<div class="chip p" style="left:671px;top:328px;width:114px;"><span class="t" style="left:5.20px;top:-10.01px;font-size:12px;line-height:12px;letter-spacing:0.336px;font-weight:400;color:#000;top:3.85px;color:#fff">temp<u>_</u>hire</span><span class="t" style="left:0.00px;top:-10.01px;font-size:12px;line-height:12px;letter-spacing:0.000px;font-weight:400;color:#000;top:3.85px;left:auto;right:8.4px;color:#fff">1</span></div>
<div class="chip g" style="left:671px;top:349px;width:114px;"><span class="t" style="left:5.20px;top:-10.01px;font-size:12px;line-height:12px;letter-spacing:-0.114px;font-weight:400;color:#000;top:3.85px;color:#fff">every<u>_</u>second<u>_</u>…</span><span class="t" style="left:0.00px;top:-10.01px;font-size:12px;line-height:12px;letter-spacing:0.000px;font-weight:400;color:#000;top:3.85px;left:auto;right:8.4px;color:#fff">2</span></div>
<div class="chip r" style="left:671px;top:370px;width:114px;"><span class="t" style="left:5.20px;top:-10.01px;font-size:12px;line-height:12px;letter-spacing:-0.227px;font-weight:400;color:#000;top:3.85px;color:#fff">ABC<u>_</u>weekday…</span><span class="t" style="left:0.00px;top:-10.01px;font-size:12px;line-height:12px;letter-spacing:0.000px;font-weight:400;color:#000;top:3.85px;left:auto;right:8.4px;color:#fff">4</span></div>
<span class="t" style="left:847.15px;top:303.15px;font-size:13px;line-height:13px;letter-spacing:0.066px;font-weight:400;color:#1f1f1f;-webkit-text-stroke:0.2px #1f1f1f">5</span>
<div class="chip p" style="left:794px;top:328px;width:114px;"><span class="t" style="left:5.20px;top:-10.01px;font-size:12px;line-height:12px;letter-spacing:0.336px;font-weight:400;color:#000;top:3.85px;color:#fff">temp<u>_</u>hire</span><span class="t" style="left:0.00px;top:-10.01px;font-size:12px;line-height:12px;letter-spacing:0.000px;font-weight:400;color:#000;top:3.85px;left:auto;right:8.4px;color:#fff">1</span></div>
<div class="chip g" style="left:794px;top:349px;width:114px;"><span class="t" style="left:5.20px;top:-10.01px;font-size:12px;line-height:12px;letter-spacing:-0.114px;font-weight:400;color:#000;top:3.85px;color:#fff">every<u>_</u>second<u>_</u>…</span><span class="t" style="left:0.00px;top:-10.01px;font-size:12px;line-height:12px;letter-spacing:0.000px;font-weight:400;color:#000;top:3.85px;left:auto;right:8.4px;color:#fff">2</span></div>
<div class="chip r" style="left:794px;top:370px;width:114px;"><span class="t" style="left:5.20px;top:-10.01px;font-size:12px;line-height:12px;letter-spacing:-0.227px;font-weight:400;color:#000;top:3.85px;color:#fff">ABC<u>_</u>weekday…</span><span class="t" style="left:0.00px;top:-10.01px;font-size:12px;line-height:12px;letter-spacing:0.000px;font-weight:400;color:#000;top:3.85px;left:auto;right:8.4px;color:#fff">4</span></div>
<span class="t" style="left:969.65px;top:303.15px;font-size:13px;line-height:13px;letter-spacing:0.066px;font-weight:400;color:#1f1f1f;-webkit-text-stroke:0.2px #1f1f1f">6</span>
<div class="chip p" style="left:917px;top:328px;width:113px;"><span class="t" style="left:5.20px;top:-10.01px;font-size:12px;line-height:12px;letter-spacing:0.336px;font-weight:400;color:#000;top:3.85px;color:#fff">temp<u>_</u>hire</span><span class="t" style="left:0.00px;top:-10.01px;font-size:12px;line-height:12px;letter-spacing:0.000px;font-weight:400;color:#000;top:3.85px;left:auto;right:8.4px;color:#fff">1</span></div>
<div class="chip g" style="left:917px;top:349px;width:113px;"><span class="t" style="left:5.20px;top:-10.01px;font-size:12px;line-height:12px;letter-spacing:-0.114px;font-weight:400;color:#000;top:3.85px;color:#fff">every<u>_</u>second<u>_</u>…</span><span class="t" style="left:0.00px;top:-10.01px;font-size:12px;line-height:12px;letter-spacing:0.000px;font-weight:400;color:#000;top:3.85px;left:auto;right:8.4px;color:#fff">2</span></div>
<div class="chip r" style="left:917px;top:370px;width:113px;"><span class="t" style="left:5.20px;top:-10.01px;font-size:12px;line-height:12px;letter-spacing:0.107px;font-weight:400;color:#000;top:3.85px;color:#fff">colour<u>_</u>flags<u>_</u>s…</span><span class="t" style="left:0.00px;top:-10.01px;font-size:12px;line-height:12px;letter-spacing:0.000px;font-weight:400;color:#000;top:3.85px;left:auto;right:8.4px;color:#fff">6</span></div>
<div class="chip r" style="left:917px;top:391px;width:113px;"><span class="t" style="left:5.20px;top:-10.01px;font-size:12px;line-height:12px;letter-spacing:-0.227px;font-weight:400;color:#000;top:3.85px;color:#fff">ABC<u>_</u>weekday…</span><span class="t" style="left:0.00px;top:-10.01px;font-size:12px;line-height:12px;letter-spacing:0.000px;font-weight:400;color:#000;top:3.85px;left:auto;right:8.4px;color:#fff">4</span></div>
<span class="t" style="left:1092.15px;top:303.15px;font-size:13px;line-height:13px;letter-spacing:0.066px;font-weight:400;color:#1f1f1f;-webkit-text-stroke:0.2px #1f1f1f">7</span>
<div class="chip p" style="left:1039px;top:328px;width:114px;"><span class="t" style="left:5.20px;top:-10.01px;font-size:12px;line-height:12px;letter-spacing:0.336px;font-weight:400;color:#000;top:3.85px;color:#fff">temp<u>_</u>hire</span><span class="t" style="left:0.00px;top:-10.01px;font-size:12px;line-height:12px;letter-spacing:0.000px;font-weight:400;color:#000;top:3.85px;left:auto;right:8.4px;color:#fff">1</span></div>
<div class="chip g" style="left:1039px;top:349px;width:114px;"><span class="t" style="left:5.20px;top:-10.01px;font-size:12px;line-height:12px;letter-spacing:-0.114px;font-weight:400;color:#000;top:3.85px;color:#fff">every<u>_</u>second<u>_</u>…</span><span class="t" style="left:0.00px;top:-10.01px;font-size:12px;line-height:12px;letter-spacing:0.000px;font-weight:400;color:#000;top:3.85px;left:auto;right:8.4px;color:#fff">2</span></div>
<div class="chip y" style="left:1039px;top:370px;width:114px;"><span class="t" style="left:5.20px;top:-10.01px;font-size:12px;line-height:12px;letter-spacing:0.107px;font-weight:400;color:#000;top:3.85px;color:#fff">colour<u>_</u>flags<u>_</u>s…</span><span class="t" style="left:0.00px;top:-10.01px;font-size:12px;line-height:12px;letter-spacing:0.000px;font-weight:400;color:#000;top:3.85px;left:auto;right:8.4px;color:#fff">3</span></div>
<div class="chip r" style="left:1039px;top:391px;width:114px;"><span class="t" style="left:5.20px;top:-10.01px;font-size:12px;line-height:12px;letter-spacing:-0.227px;font-weight:400;color:#000;top:3.85px;color:#fff">ABC<u>_</u>weekday…</span><span class="t" style="left:0.00px;top:-10.01px;font-size:12px;line-height:12px;letter-spacing:0.000px;font-weight:400;color:#000;top:3.85px;left:auto;right:8.4px;color:#fff">4</span></div>
<span class="t" style="left:1215.15px;top:303.15px;font-size:13px;line-height:13px;letter-spacing:0.066px;font-weight:400;color:#1f1f1f;-webkit-text-stroke:0.2px #1f1f1f">8</span>
<div class="chip p" style="left:1162px;top:328px;width:114px;"><span class="t" style="left:5.20px;top:-10.01px;font-size:12px;line-height:12px;letter-spacing:0.336px;font-weight:400;color:#000;top:3.85px;color:#fff">temp<u>_</u>hire</span><span class="t" style="left:0.00px;top:-10.01px;font-size:12px;line-height:12px;letter-spacing:0.000px;font-weight:400;color:#000;top:3.85px;left:auto;right:8.4px;color:#fff">1</span></div>
<div class="chip y" style="left:1162px;top:349px;width:114px;"><span class="t" style="left:5.20px;top:-10.01px;font-size:12px;line-height:12px;letter-spacing:0.107px;font-weight:400;color:#000;top:3.85px;color:#fff">colour<u>_</u>flags<u>_</u>s…</span><span class="t" style="left:0.00px;top:-10.01px;font-size:12px;line-height:12px;letter-spacing:0.000px;font-weight:400;color:#000;top:3.85px;left:auto;right:8.4px;color:#fff">3</span></div>
<div class="chip r" style="left:1162px;top:370px;width:114px;"><span class="t" style="left:5.20px;top:-10.01px;font-size:12px;line-height:12px;letter-spacing:-0.227px;font-weight:400;color:#000;top:3.85px;color:#fff">ABC<u>_</u>weekday…</span><span class="t" style="left:0.00px;top:-10.01px;font-size:12px;line-height:12px;letter-spacing:0.000px;font-weight:400;color:#000;top:3.85px;left:auto;right:8.4px;color:#fff">4</span></div>
<div class="chip g" style="left:1162px;top:391px;width:114px;"><span class="t" style="left:5.20px;top:-10.01px;font-size:12px;line-height:12px;letter-spacing:-0.114px;font-weight:400;color:#000;top:3.85px;color:#fff">every<u>_</u>second<u>_</u>…</span><span class="t" style="left:0.00px;top:-10.01px;font-size:12px;line-height:12px;letter-spacing:0.000px;font-weight:400;color:#000;top:3.85px;left:auto;right:8.4px;color:#fff">1</span></div>
<span class="t" style="left:1338.15px;top:303.15px;font-size:13px;line-height:13px;letter-spacing:0.066px;font-weight:400;color:#1f1f1f;-webkit-text-stroke:0.2px #1f1f1f">9</span>
<div class="chip p" style="left:1285px;top:328px;width:114px;"><span class="t" style="left:5.20px;top:-10.01px;font-size:12px;line-height:12px;letter-spacing:0.336px;font-weight:400;color:#000;top:3.85px;color:#fff">temp<u>_</u>hire</span><span class="t" style="left:0.00px;top:-10.01px;font-size:12px;line-height:12px;letter-spacing:0.000px;font-weight:400;color:#000;top:3.85px;left:auto;right:8.4px;color:#fff">1</span></div>
<div class="chip y" style="left:1285px;top:349px;width:114px;"><span class="t" style="left:5.20px;top:-10.01px;font-size:12px;line-height:12px;letter-spacing:0.107px;font-weight:400;color:#000;top:3.85px;color:#fff">colour<u>_</u>flags<u>_</u>s…</span><span class="t" style="left:0.00px;top:-10.01px;font-size:12px;line-height:12px;letter-spacing:0.000px;font-weight:400;color:#000;top:3.85px;left:auto;right:8.4px;color:#fff">3</span></div>
<div class="chip r" style="left:1285px;top:370px;width:114px;"><span class="t" style="left:5.20px;top:-10.01px;font-size:12px;line-height:12px;letter-spacing:-0.227px;font-weight:400;color:#000;top:3.85px;color:#fff">ABC<u>_</u>weekday…</span><span class="t" style="left:0.00px;top:-10.01px;font-size:12px;line-height:12px;letter-spacing:0.000px;font-weight:400;color:#000;top:3.85px;left:auto;right:8.4px;color:#fff">4</span></div>
<div class="chip g" style="left:1285px;top:391px;width:114px;"><span class="t" style="left:5.20px;top:-10.01px;font-size:12px;line-height:12px;letter-spacing:-0.114px;font-weight:400;color:#000;top:3.85px;color:#fff">every<u>_</u>second<u>_</u>…</span><span class="t" style="left:0.00px;top:-10.01px;font-size:12px;line-height:12px;letter-spacing:0.000px;font-weight:400;color:#000;top:3.85px;left:auto;right:8.4px;color:#fff">1</span></div>
<span class="t" style="left:597.50px;top:440.15px;font-size:13px;line-height:13px;letter-spacing:0.066px;font-weight:400;color:#1f1f1f;-webkit-text-stroke:0.2px #1f1f1f">10</span>
<div class="chip p" style="left:548px;top:465px;width:114px;"><span class="t" style="left:5.20px;top:-10.01px;font-size:12px;line-height:12px;letter-spacing:0.336px;font-weight:400;color:#000;top:3.85px;color:#fff">temp<u>_</u>hire</span><span class="t" style="left:0.00px;top:-10.01px;font-size:12px;line-height:12px;letter-spacing:0.000px;font-weight:400;color:#000;top:3.85px;left:auto;right:8.4px;color:#fff">1</span></div>
<div class="chip g" style="left:548px;top:486px;width:114px;"><span class="t" style="left:5.20px;top:-10.01px;font-size:12px;line-height:12px;letter-spacing:-0.114px;font-weight:400;color:#000;top:3.85px;color:#fff">every<u>_</u>second<u>_</u>…</span><span class="t" style="left:0.00px;top:-10.01px;font-size:12px;line-height:12px;letter-spacing:0.000px;font-weight:400;color:#000;top:3.85px;left:auto;right:8.4px;color:#fff">2</span></div>
<div class="chip y" style="left:548px;top:507px;width:114px;"><span class="t" style="left:5.20px;top:-10.01px;font-size:12px;line-height:12px;letter-spacing:0.107px;font-weight:400;color:#000;top:3.85px;color:#fff">colour<u>_</u>flags<u>_</u>s…</span><span class="t" style="left:0.00px;top:-10.01px;font-size:12px;line-height:12px;letter-spacing:0.000px;font-weight:400;color:#000;top:3.85px;left:auto;right:8.4px;color:#fff">3</span></div>
<div class="chip r" style="left:548px;top:528px;width:114px;"><span class="t" style="left:5.20px;top:-10.01px;font-size:12px;line-height:12px;letter-spacing:-0.227px;font-weight:400;color:#000;top:3.85px;color:#fff">ABC<u>_</u>weekday…</span><span class="t" style="left:0.00px;top:-10.01px;font-size:12px;line-height:12px;letter-spacing:0.000px;font-weight:400;color:#000;top:3.85px;left:auto;right:8.4px;color:#fff">4</span></div>
<div class="a" style="left:715px;top:434px;width:25px;height:25px;border-radius:50%;background:#50beda"></div>
<span class="t" style="left:720.50px;top:440.15px;font-size:13px;line-height:13px;letter-spacing:0.550px;font-weight:400;color:#fff;-webkit-text-stroke:0.3px #fff">11</span>
<div class="chip r" style="left:671px;top:465px;width:114px;"><span class="t" style="left:5.20px;top:-10.01px;font-size:12px;line-height:12px;letter-spacing:-0.227px;font-weight:400;color:#000;top:3.85px;color:#fff">ABC<u>_</u>weekday…</span><span class="t" style="left:0.00px;top:-10.01px;font-size:12px;line-height:12px;letter-spacing:0.000px;font-weight:400;color:#000;top:3.85px;left:auto;right:8.4px;color:#fff">8</span></div>
<div class="chip p" style="left:671px;top:486px;width:114px;"><span class="t" style="left:5.20px;top:-10.01px;font-size:12px;line-height:12px;letter-spacing:0.336px;font-weight:400;color:#000;top:3.85px;color:#fff">temp<u>_</u>hire</span><span class="t" style="left:0.00px;top:-10.01px;font-size:12px;line-height:12px;letter-spacing:0.000px;font-weight:400;color:#000;top:3.85px;left:auto;right:8.4px;color:#fff">1</span></div>
<div class="chip g" style="left:671px;top:507px;width:114px;"><span class="t" style="left:5.20px;top:-10.01px;font-size:12px;line-height:12px;letter-spacing:-0.114px;font-weight:400;color:#000;top:3.85px;color:#fff">every<u>_</u>second<u>_</u>…</span><span class="t" style="left:0.00px;top:-10.01px;font-size:12px;line-height:12px;letter-spacing:0.000px;font-weight:400;color:#000;top:3.85px;left:auto;right:8.4px;color:#fff">2</span></div>
<div class="chip y" style="left:671px;top:528px;width:114px;"><span class="t" style="left:5.20px;top:-10.01px;font-size:12px;line-height:12px;letter-spacing:0.107px;font-weight:400;color:#000;top:3.85px;color:#fff">colour<u>_</u>flags<u>_</u>s…</span><span class="t" style="left:0.00px;top:-10.01px;font-size:12px;line-height:12px;letter-spacing:0.000px;font-weight:400;color:#000;top:3.85px;left:auto;right:8.4px;color:#fff">3</span></div>
<span class="t" style="left:843.50px;top:440.15px;font-size:13px;line-height:13px;letter-spacing:0.066px;font-weight:400;color:#1f1f1f;-webkit-text-stroke:0.2px #1f1f1f">12</span>
<div class="chip p" style="left:794px;top:465px;width:114px;"><span class="t" style="left:5.20px;top:-10.01px;font-size:12px;line-height:12px;letter-spacing:0.336px;font-weight:400;color:#000;top:3.85px;color:#fff">temp<u>_</u>hire</span><span class="t" style="left:0.00px;top:-10.01px;font-size:12px;line-height:12px;letter-spacing:0.000px;font-weight:400;color:#000;top:3.85px;left:auto;right:8.4px;color:#fff">1</span></div>
<div class="chip r" style="left:794px;top:486px;width:114px;"><span class="t" style="left:5.20px;top:-10.01px;font-size:12px;line-height:12px;letter-spacing:-0.066px;font-weight:400;color:#000;top:3.85px;color:#fff">weekdays<u>_</u>wee…</span><span class="t" style="left:0.00px;top:-10.01px;font-size:12px;line-height:12px;letter-spacing:0.000px;font-weight:400;color:#000;top:3.85px;left:auto;right:8.4px;color:#fff">4</span></div>
<div class="chip y" style="left:794px;top:507px;width:114px;"><span class="t" style="left:5.20px;top:-10.01px;font-size:12px;line-height:12px;letter-spacing:0.107px;font-weight:400;color:#000;top:3.85px;color:#fff">colour<u>_</u>flags<u>_</u>s…</span><span class="t" style="left:0.00px;top:-10.01px;font-size:12px;line-height:12px;letter-spacing:0.000px;font-weight:400;color:#000;top:3.85px;left:auto;right:8.4px;color:#fff">3</span></div>
<div class="chip g" style="left:794px;top:528px;width:114px;"><span class="t" style="left:5.20px;top:-10.01px;font-size:12px;line-height:12px;letter-spacing:-0.114px;font-weight:400;color:#000;top:3.85px;color:#fff">every<u>_</u>second<u>_</u>…</span><span class="t" style="left:0.00px;top:-10.01px;font-size:12px;line-height:12px;letter-spacing:0.000px;font-weight:400;color:#000;top:3.85px;left:auto;right:8.4px;color:#fff">1</span></div>
<span class="t" style="left:966.00px;top:440.15px;font-size:13px;line-height:13px;letter-spacing:0.066px;font-weight:400;color:#1f1f1f;-webkit-text-stroke:0.2px #1f1f1f">13</span>
<div class="chip p" style="left:917px;top:465px;width:113px;"><span class="t" style="left:5.20px;top:-10.01px;font-size:12px;line-height:12px;letter-spacing:0.336px;font-weight:400;color:#000;top:3.85px;color:#fff">temp<u>_</u>hire</span><span class="t" style="left:0.00px;top:-10.01px;font-size:12px;line-height:12px;letter-spacing:0.000px;font-weight:400;color:#000;top:3.85px;left:auto;right:8.4px;color:#fff">1</span></div>
<div class="chip r" style="left:917px;top:486px;width:113px;"><span class="t" style="left:5.20px;top:-10.01px;font-size:12px;line-height:12px;letter-spacing:-0.066px;font-weight:400;color:#000;top:3.85px;color:#fff">weekdays<u>_</u>wee…</span><span class="t" style="left:0.00px;top:-10.01px;font-size:12px;line-height:12px;letter-spacing:0.000px;font-weight:400;color:#000;top:3.85px;left:auto;right:8.4px;color:#fff">4</span></div>
<div class="chip y" style="left:917px;top:507px;width:113px;"><span class="t" style="left:5.20px;top:-10.01px;font-size:12px;line-height:12px;letter-spacing:0.107px;font-weight:400;color:#000;top:3.85px;color:#fff">colour<u>_</u>flags<u>_</u>s…</span><span class="t" style="left:0.00px;top:-10.01px;font-size:12px;line-height:12px;letter-spacing:0.000px;font-weight:400;color:#000;top:3.85px;left:auto;right:8.4px;color:#fff">3</span></div>
<div class="chip g" style="left:917px;top:528px;width:113px;"><span class="t" style="left:5.20px;top:-10.01px;font-size:12px;line-height:12px;letter-spacing:-0.114px;font-weight:400;color:#000;top:3.85px;color:#fff">every<u>_</u>second<u>_</u>…</span><span class="t" style="left:0.00px;top:-10.01px;font-size:12px;line-height:12px;letter-spacing:0.000px;font-weight:400;color:#000;top:3.85px;left:auto;right:8.4px;color:#fff">1</span></div>
<span class="t" style="left:1088.50px;top:440.15px;font-size:13px;line-height:13px;letter-spacing:0.066px;font-weight:400;color:#1f1f1f;-webkit-text-stroke:0.2px #1f1f1f">14</span>
<div class="chip p" style="left:1039px;top:465px;width:114px;"><span class="t" style="left:5.20px;top:-10.01px;font-size:12px;line-height:12px;letter-spacing:0.336px;font-weight:400;color:#000;top:3.85px;color:#fff">temp<u>_</u>hire</span><span class="t" style="left:0.00px;top:-10.01px;font-size:12px;line-height:12px;letter-spacing:0.000px;font-weight:400;color:#000;top:3.85px;left:auto;right:8.4px;color:#fff">1</span></div>
<div class="chip r" style="left:1039px;top:486px;width:114px;"><span class="t" style="left:5.20px;top:-10.01px;font-size:12px;line-height:12px;letter-spacing:-0.066px;font-weight:400;color:#000;top:3.85px;color:#fff">weekdays<u>_</u>wee…</span><span class="t" style="left:0.00px;top:-10.01px;font-size:12px;line-height:12px;letter-spacing:0.000px;font-weight:400;color:#000;top:3.85px;left:auto;right:8.4px;color:#fff">4</span></div>
<div class="chip y" style="left:1039px;top:507px;width:114px;"><span class="t" style="left:5.20px;top:-10.01px;font-size:12px;line-height:12px;letter-spacing:0.107px;font-weight:400;color:#000;top:3.85px;color:#fff">colour<u>_</u>flags<u>_</u>s…</span><span class="t" style="left:0.00px;top:-10.01px;font-size:12px;line-height:12px;letter-spacing:0.000px;font-weight:400;color:#000;top:3.85px;left:auto;right:8.4px;color:#fff">3</span></div>
<div class="chip g" style="left:1039px;top:528px;width:114px;"><span class="t" style="left:5.20px;top:-10.01px;font-size:12px;line-height:12px;letter-spacing:-0.114px;font-weight:400;color:#000;top:3.85px;color:#fff">every<u>_</u>second<u>_</u>…</span><span class="t" style="left:0.00px;top:-10.01px;font-size:12px;line-height:12px;letter-spacing:0.000px;font-weight:400;color:#000;top:3.85px;left:auto;right:8.4px;color:#fff">1</span></div>
<span class="t" style="left:1211.50px;top:440.15px;font-size:13px;line-height:13px;letter-spacing:0.066px;font-weight:400;color:#1f1f1f;-webkit-text-stroke:0.2px #1f1f1f">15</span>
<div class="chip p" style="left:1162px;top:465px;width:114px;"><span class="t" style="left:5.20px;top:-10.01px;font-size:12px;line-height:12px;letter-spacing:0.336px;font-weight:400;color:#000;top:3.85px;color:#fff">temp<u>_</u>hire</span><span class="t" style="left:0.00px;top:-10.01px;font-size:12px;line-height:12px;letter-spacing:0.000px;font-weight:400;color:#000;top:3.85px;left:auto;right:8.4px;color:#fff">1</span></div>
<div class="chip r" style="left:1162px;top:486px;width:114px;"><span class="t" style="left:5.20px;top:-10.01px;font-size:12px;line-height:12px;letter-spacing:-0.066px;font-weight:400;color:#000;top:3.85px;color:#fff">weekdays<u>_</u>wee…</span><span class="t" style="left:0.00px;top:-10.01px;font-size:12px;line-height:12px;letter-spacing:0.000px;font-weight:400;color:#000;top:3.85px;left:auto;right:8.4px;color:#fff">2</span></div>
<div class="vor" style="left:1162px;top:507px;width:112px"><span class="t" style="left:5.00px;top:-10.01px;font-size:12px;line-height:12px;letter-spacing:-0.539px;font-weight:400;color:#000;top:3.85px;color:#3a3a3a">VOR</span><span class="t" style="left:0.00px;top:-10.01px;font-size:12px;line-height:12px;letter-spacing:0.000px;font-weight:400;color:#000;top:3.85px;left:auto;right:8px;color:#3a3a3a">2</span></div>
<div class="chip y" style="left:1162px;top:530px;width:114px;"><span class="t" style="left:5.20px;top:-10.01px;font-size:12px;line-height:12px;letter-spacing:0.107px;font-weight:400;color:#000;top:3.85px;color:#fff">colour<u>_</u>flags<u>_</u>s…</span><span class="t" style="left:0.00px;top:-10.01px;font-size:12px;line-height:12px;letter-spacing:0.000px;font-weight:400;color:#000;top:3.85px;left:auto;right:8.4px;color:#fff">3</span></div>
<span class="t" style="left:1334.50px;top:440.15px;font-size:13px;line-height:13px;letter-spacing:0.066px;font-weight:400;color:#1f1f1f;-webkit-text-stroke:0.2px #1f1f1f">16</span>
<div class="chip p" style="left:1285px;top:465px;width:114px;"><span class="t" style="left:5.20px;top:-10.01px;font-size:12px;line-height:12px;letter-spacing:0.336px;font-weight:400;color:#000;top:3.85px;color:#fff">temp<u>_</u>hire</span><span class="t" style="left:0.00px;top:-10.01px;font-size:12px;line-height:12px;letter-spacing:0.000px;font-weight:400;color:#000;top:3.85px;left:auto;right:8.4px;color:#fff">1</span></div>
<div class="chip r" style="left:1285px;top:486px;width:114px;"><span class="t" style="left:5.20px;top:-10.01px;font-size:12px;line-height:12px;letter-spacing:-0.066px;font-weight:400;color:#000;top:3.85px;color:#fff">weekdays<u>_</u>wee…</span><span class="t" style="left:0.00px;top:-10.01px;font-size:12px;line-height:12px;letter-spacing:0.000px;font-weight:400;color:#000;top:3.85px;left:auto;right:8.4px;color:#fff">2</span></div>
<div class="vor" style="left:1285px;top:507px;width:112px"><span class="t" style="left:5.00px;top:-10.01px;font-size:12px;line-height:12px;letter-spacing:-0.539px;font-weight:400;color:#000;top:3.85px;color:#3a3a3a">VOR</span><span class="t" style="left:0.00px;top:-10.01px;font-size:12px;line-height:12px;letter-spacing:0.000px;font-weight:400;color:#000;top:3.85px;left:auto;right:8px;color:#3a3a3a">2</span></div>
<div class="chip y" style="left:1285px;top:530px;width:114px;"><span class="t" style="left:5.20px;top:-10.01px;font-size:12px;line-height:12px;letter-spacing:0.107px;font-weight:400;color:#000;top:3.85px;color:#fff">colour<u>_</u>flags<u>_</u>s…</span><span class="t" style="left:0.00px;top:-10.01px;font-size:12px;line-height:12px;letter-spacing:0.000px;font-weight:400;color:#000;top:3.85px;left:auto;right:8.4px;color:#fff">3</span></div>
<span class="t" style="left:597.50px;top:577.15px;font-size:13px;line-height:13px;letter-spacing:0.066px;font-weight:400;color:#1f1f1f;-webkit-text-stroke:0.2px #1f1f1f">17</span>
<div class="chip p" style="left:548px;top:602px;width:114px;"><span class="t" style="left:5.20px;top:-10.01px;font-size:12px;line-height:12px;letter-spacing:0.336px;font-weight:400;color:#000;top:3.85px;color:#fff">temp<u>_</u>hire</span><span class="t" style="left:0.00px;top:-10.01px;font-size:12px;line-height:12px;letter-spacing:0.000px;font-weight:400;color:#000;top:3.85px;left:auto;right:8.4px;color:#fff">1</span></div>
<div class="chip r" style="left:548px;top:623px;width:114px;"><span class="t" style="left:5.20px;top:-10.01px;font-size:12px;line-height:12px;letter-spacing:-0.066px;font-weight:400;color:#000;top:3.85px;color:#fff">weekdays<u>_</u>wee…</span><span class="t" style="left:0.00px;top:-10.01px;font-size:12px;line-height:12px;letter-spacing:0.000px;font-weight:400;color:#000;top:3.85px;left:auto;right:8.4px;color:#fff">4</span></div>
<div class="chip y" style="left:548px;top:644px;width:114px;"><span class="t" style="left:5.20px;top:-10.01px;font-size:12px;line-height:12px;letter-spacing:0.107px;font-weight:400;color:#000;top:3.85px;color:#fff">colour<u>_</u>flags<u>_</u>s…</span><span class="t" style="left:0.00px;top:-10.01px;font-size:12px;line-height:12px;letter-spacing:0.000px;font-weight:400;color:#000;top:3.85px;left:auto;right:8.4px;color:#fff">3</span></div>
<div class="chip g" style="left:548px;top:665px;width:114px;"><span class="t" style="left:5.20px;top:-10.01px;font-size:12px;line-height:12px;letter-spacing:-0.114px;font-weight:400;color:#000;top:3.85px;color:#fff">every<u>_</u>second<u>_</u>…</span><span class="t" style="left:0.00px;top:-10.01px;font-size:12px;line-height:12px;letter-spacing:0.000px;font-weight:400;color:#000;top:3.85px;left:auto;right:8.4px;color:#fff">1</span></div>
<span class="t" style="left:720.50px;top:577.15px;font-size:13px;line-height:13px;letter-spacing:0.066px;font-weight:400;color:#1f1f1f;-webkit-text-stroke:0.2px #1f1f1f">18</span>
<div class="chip p" style="left:671px;top:602px;width:114px;"><span class="t" style="left:5.20px;top:-10.01px;font-size:12px;line-height:12px;letter-spacing:0.336px;font-weight:400;color:#000;top:3.85px;color:#fff">temp<u>_</u>hire</span><span class="t" style="left:0.00px;top:-10.01px;font-size:12px;line-height:12px;letter-spacing:0.000px;font-weight:400;color:#000;top:3.85px;left:auto;right:8.4px;color:#fff">1</span></div>
<div class="chip r" style="left:671px;top:623px;width:114px;"><span class="t" style="left:5.20px;top:-10.01px;font-size:12px;line-height:12px;letter-spacing:-0.066px;font-weight:400;color:#000;top:3.85px;color:#fff">weekdays<u>_</u>wee…</span><span class="t" style="left:0.00px;top:-10.01px;font-size:12px;line-height:12px;letter-spacing:0.000px;font-weight:400;color:#000;top:3.85px;left:auto;right:8.4px;color:#fff">4</span></div>
<div class="chip y" style="left:671px;top:644px;width:114px;"><span class="t" style="left:5.20px;top:-10.01px;font-size:12px;line-height:12px;letter-spacing:0.107px;font-weight:400;color:#000;top:3.85px;color:#fff">colour<u>_</u>flags<u>_</u>s…</span><span class="t" style="left:0.00px;top:-10.01px;font-size:12px;line-height:12px;letter-spacing:0.000px;font-weight:400;color:#000;top:3.85px;left:auto;right:8.4px;color:#fff">3</span></div>
<div class="chip g" style="left:671px;top:665px;width:114px;"><span class="t" style="left:5.20px;top:-10.01px;font-size:12px;line-height:12px;letter-spacing:-0.114px;font-weight:400;color:#000;top:3.85px;color:#fff">every<u>_</u>second<u>_</u>…</span><span class="t" style="left:0.00px;top:-10.01px;font-size:12px;line-height:12px;letter-spacing:0.000px;font-weight:400;color:#000;top:3.85px;left:auto;right:8.4px;color:#fff">1</span></div>
<span class="t" style="left:843.50px;top:577.15px;font-size:13px;line-height:13px;letter-spacing:0.066px;font-weight:400;color:#1f1f1f;-webkit-text-stroke:0.2px #1f1f1f">19</span>
<div class="chip p" style="left:794px;top:602px;width:114px;"><span class="t" style="left:5.20px;top:-10.01px;font-size:12px;line-height:12px;letter-spacing:0.336px;font-weight:400;color:#000;top:3.85px;color:#fff">temp<u>_</u>hire</span><span class="t" style="left:0.00px;top:-10.01px;font-size:12px;line-height:12px;letter-spacing:0.000px;font-weight:400;color:#000;top:3.85px;left:auto;right:8.4px;color:#fff">1</span></div>
<div class="chip r" style="left:794px;top:623px;width:114px;"><span class="t" style="left:5.20px;top:-10.01px;font-size:12px;line-height:12px;letter-spacing:-0.066px;font-weight:400;color:#000;top:3.85px;color:#fff">weekdays<u>_</u>wee…</span><span class="t" style="left:0.00px;top:-10.01px;font-size:12px;line-height:12px;letter-spacing:0.000px;font-weight:400;color:#000;top:3.85px;left:auto;right:8.4px;color:#fff">4</span></div>
<div class="chip y" style="left:794px;top:644px;width:114px;"><span class="t" style="left:5.20px;top:-10.01px;font-size:12px;line-height:12px;letter-spacing:0.107px;font-weight:400;color:#000;top:3.85px;color:#fff">colour<u>_</u>flags<u>_</u>s…</span><span class="t" style="left:0.00px;top:-10.01px;font-size:12px;line-height:12px;letter-spacing:0.000px;font-weight:400;color:#000;top:3.85px;left:auto;right:8.4px;color:#fff">3</span></div>
<div class="chip g" style="left:794px;top:665px;width:114px;"><span class="t" style="left:5.20px;top:-10.01px;font-size:12px;line-height:12px;letter-spacing:-0.114px;font-weight:400;color:#000;top:3.85px;color:#fff">every<u>_</u>second<u>_</u>…</span><span class="t" style="left:0.00px;top:-10.01px;font-size:12px;line-height:12px;letter-spacing:0.000px;font-weight:400;color:#000;top:3.85px;left:auto;right:8.4px;color:#fff">1</span></div>
<span class="t" style="left:966.00px;top:577.15px;font-size:13px;line-height:13px;letter-spacing:0.066px;font-weight:400;color:#1f1f1f;-webkit-text-stroke:0.2px #1f1f1f">20</span>
<div class="chip p" style="left:917px;top:602px;width:113px;"><span class="t" style="left:5.20px;top:-10.01px;font-size:12px;line-height:12px;letter-spacing:0.336px;font-weight:400;color:#000;top:3.85px;color:#fff">temp<u>_</u>hire</span><span class="t" style="left:0.00px;top:-10.01px;font-size:12px;line-height:12px;letter-spacing:0.000px;font-weight:400;color:#000;top:3.85px;left:auto;right:8.4px;color:#fff">1</span></div>
<div class="chip r" style="left:917px;top:623px;width:113px;"><span class="t" style="left:5.20px;top:-10.01px;font-size:12px;line-height:12px;letter-spacing:-0.066px;font-weight:400;color:#000;top:3.85px;color:#fff">weekdays<u>_</u>wee…</span><span class="t" style="left:0.00px;top:-10.01px;font-size:12px;line-height:12px;letter-spacing:0.000px;font-weight:400;color:#000;top:3.85px;left:auto;right:8.4px;color:#fff">4</span></div>
<div class="chip y" style="left:917px;top:644px;width:113px;"><span class="t" style="left:5.20px;top:-10.01px;font-size:12px;line-height:12px;letter-spacing:0.107px;font-weight:400;color:#000;top:3.85px;color:#fff">colour<u>_</u>flags<u>_</u>s…</span><span class="t" style="left:0.00px;top:-10.01px;font-size:12px;line-height:12px;letter-spacing:0.000px;font-weight:400;color:#000;top:3.85px;left:auto;right:8.4px;color:#fff">3</span></div>
<div class="chip g" style="left:917px;top:665px;width:113px;"><span class="t" style="left:5.20px;top:-10.01px;font-size:12px;line-height:12px;letter-spacing:-0.114px;font-weight:400;color:#000;top:3.85px;color:#fff">every<u>_</u>second<u>_</u>…</span><span class="t" style="left:0.00px;top:-10.01px;font-size:12px;line-height:12px;letter-spacing:0.000px;font-weight:400;color:#000;top:3.85px;left:auto;right:8.4px;color:#fff">1</span></div>
<span class="t" style="left:1088.50px;top:577.15px;font-size:13px;line-height:13px;letter-spacing:0.066px;font-weight:400;color:#1f1f1f;-webkit-text-stroke:0.2px #1f1f1f">21</span>
<div class="chip p" style="left:1039px;top:602px;width:114px;"><span class="t" style="left:5.20px;top:-10.01px;font-size:12px;line-height:12px;letter-spacing:0.336px;font-weight:400;color:#000;top:3.85px;color:#fff">temp<u>_</u>hire</span><span class="t" style="left:0.00px;top:-10.01px;font-size:12px;line-height:12px;letter-spacing:0.000px;font-weight:400;color:#000;top:3.85px;left:auto;right:8.4px;color:#fff">1</span></div>
<div class="chip r" style="left:1039px;top:623px;width:114px;"><span class="t" style="left:5.20px;top:-10.01px;font-size:12px;line-height:12px;letter-spacing:-0.066px;font-weight:400;color:#000;top:3.85px;color:#fff">weekdays<u>_</u>wee…</span><span class="t" style="left:0.00px;top:-10.01px;font-size:12px;line-height:12px;letter-spacing:0.000px;font-weight:400;color:#000;top:3.85px;left:auto;right:8.4px;color:#fff">4</span></div>
<div class="chip y" style="left:1039px;top:644px;width:114px;"><span class="t" style="left:5.20px;top:-10.01px;font-size:12px;line-height:12px;letter-spacing:0.107px;font-weight:400;color:#000;top:3.85px;color:#fff">colour<u>_</u>flags<u>_</u>s…</span><span class="t" style="left:0.00px;top:-10.01px;font-size:12px;line-height:12px;letter-spacing:0.000px;font-weight:400;color:#000;top:3.85px;left:auto;right:8.4px;color:#fff">3</span></div>
<div class="chip g" style="left:1039px;top:665px;width:114px;"><span class="t" style="left:5.20px;top:-10.01px;font-size:12px;line-height:12px;letter-spacing:-0.114px;font-weight:400;color:#000;top:3.85px;color:#fff">every<u>_</u>second<u>_</u>…</span><span class="t" style="left:0.00px;top:-10.01px;font-size:12px;line-height:12px;letter-spacing:0.000px;font-weight:400;color:#000;top:3.85px;left:auto;right:8.4px;color:#fff">1</span></div>
<span class="t" style="left:1211.50px;top:577.15px;font-size:13px;line-height:13px;letter-spacing:0.066px;font-weight:400;color:#1f1f1f;-webkit-text-stroke:0.2px #1f1f1f">22</span>
<div class="chip p" style="left:1162px;top:602px;width:114px;"><span class="t" style="left:5.20px;top:-10.01px;font-size:12px;line-height:12px;letter-spacing:0.336px;font-weight:400;color:#000;top:3.85px;color:#fff">temp<u>_</u>hire</span><span class="t" style="left:0.00px;top:-10.01px;font-size:12px;line-height:12px;letter-spacing:0.000px;font-weight:400;color:#000;top:3.85px;left:auto;right:8.4px;color:#fff">1</span></div>
<div class="chip r" style="left:1162px;top:623px;width:114px;"><span class="t" style="left:5.20px;top:-10.01px;font-size:12px;line-height:12px;letter-spacing:-0.066px;font-weight:400;color:#000;top:3.85px;color:#fff">weekdays<u>_</u>wee…</span><span class="t" style="left:0.00px;top:-10.01px;font-size:12px;line-height:12px;letter-spacing:0.000px;font-weight:400;color:#000;top:3.85px;left:auto;right:8.4px;color:#fff">4</span></div>
<div class="chip y" style="left:1162px;top:644px;width:114px;"><span class="t" style="left:5.20px;top:-10.01px;font-size:12px;line-height:12px;letter-spacing:0.107px;font-weight:400;color:#000;top:3.85px;color:#fff">colour<u>_</u>flags<u>_</u>s…</span><span class="t" style="left:0.00px;top:-10.01px;font-size:12px;line-height:12px;letter-spacing:0.000px;font-weight:400;color:#000;top:3.85px;left:auto;right:8.4px;color:#fff">3</span></div>
<div class="chip g" style="left:1162px;top:665px;width:114px;"><span class="t" style="left:5.20px;top:-10.01px;font-size:12px;line-height:12px;letter-spacing:-0.114px;font-weight:400;color:#000;top:3.85px;color:#fff">every<u>_</u>second<u>_</u>…</span><span class="t" style="left:0.00px;top:-10.01px;font-size:12px;line-height:12px;letter-spacing:0.000px;font-weight:400;color:#000;top:3.85px;left:auto;right:8.4px;color:#fff">1</span></div>
<span class="t" style="left:1334.50px;top:577.15px;font-size:13px;line-height:13px;letter-spacing:0.066px;font-weight:400;color:#1f1f1f;-webkit-text-stroke:0.2px #1f1f1f">23</span>
<div class="chip p" style="left:1285px;top:602px;width:114px;"><span class="t" style="left:5.20px;top:-10.01px;font-size:12px;line-height:12px;letter-spacing:0.336px;font-weight:400;color:#000;top:3.85px;color:#fff">temp<u>_</u>hire</span><span class="t" style="left:0.00px;top:-10.01px;font-size:12px;line-height:12px;letter-spacing:0.000px;font-weight:400;color:#000;top:3.85px;left:auto;right:8.4px;color:#fff">1</span></div>
<div class="chip r" style="left:1285px;top:623px;width:114px;"><span class="t" style="left:5.20px;top:-10.01px;font-size:12px;line-height:12px;letter-spacing:-0.066px;font-weight:400;color:#000;top:3.85px;color:#fff">weekdays<u>_</u>wee…</span><span class="t" style="left:0.00px;top:-10.01px;font-size:12px;line-height:12px;letter-spacing:0.000px;font-weight:400;color:#000;top:3.85px;left:auto;right:8.4px;color:#fff">4</span></div>
<div class="chip y" style="left:1285px;top:644px;width:114px;"><span class="t" style="left:5.20px;top:-10.01px;font-size:12px;line-height:12px;letter-spacing:0.107px;font-weight:400;color:#000;top:3.85px;color:#fff">colour<u>_</u>flags<u>_</u>s…</span><span class="t" style="left:0.00px;top:-10.01px;font-size:12px;line-height:12px;letter-spacing:0.000px;font-weight:400;color:#000;top:3.85px;left:auto;right:8.4px;color:#fff">3</span></div>
<div class="chip g" style="left:1285px;top:665px;width:114px;"><span class="t" style="left:5.20px;top:-10.01px;font-size:12px;line-height:12px;letter-spacing:-0.114px;font-weight:400;color:#000;top:3.85px;color:#fff">every<u>_</u>second<u>_</u>…</span><span class="t" style="left:0.00px;top:-10.01px;font-size:12px;line-height:12px;letter-spacing:0.000px;font-weight:400;color:#000;top:3.85px;left:auto;right:8.4px;color:#fff">1</span></div>
<span class="t" style="left:597.50px;top:714.15px;font-size:13px;line-height:13px;letter-spacing:0.066px;font-weight:400;color:#1f1f1f;-webkit-text-stroke:0.2px #1f1f1f">24</span>
<div class="chip p" style="left:548px;top:739px;width:114px;"><span class="t" style="left:5.20px;top:-10.01px;font-size:12px;line-height:12px;letter-spacing:0.336px;font-weight:400;color:#000;top:3.85px;color:#fff">temp<u>_</u>hire</span><span class="t" style="left:0.00px;top:-10.01px;font-size:12px;line-height:12px;letter-spacing:0.000px;font-weight:400;color:#000;top:3.85px;left:auto;right:8.4px;color:#fff">1</span></div>
<div class="chip r" style="left:548px;top:760px;width:114px;"><span class="t" style="left:5.20px;top:-10.01px;font-size:12px;line-height:12px;letter-spacing:-0.066px;font-weight:400;color:#000;top:3.85px;color:#fff">weekdays<u>_</u>wee…</span><span class="t" style="left:0.00px;top:-10.01px;font-size:12px;line-height:12px;letter-spacing:0.000px;font-weight:400;color:#000;top:3.85px;left:auto;right:8.4px;color:#fff">4</span></div>
<div class="chip y" style="left:548px;top:781px;width:114px;"><span class="t" style="left:5.20px;top:-10.01px;font-size:12px;line-height:12px;letter-spacing:0.107px;font-weight:400;color:#000;top:3.85px;color:#fff">colour<u>_</u>flags<u>_</u>s…</span><span class="t" style="left:0.00px;top:-10.01px;font-size:12px;line-height:12px;letter-spacing:0.000px;font-weight:400;color:#000;top:3.85px;left:auto;right:8.4px;color:#fff">3</span></div>
<div class="chip g" style="left:548px;top:802px;width:114px;"><span class="t" style="left:5.20px;top:-10.01px;font-size:12px;line-height:12px;letter-spacing:-0.114px;font-weight:400;color:#000;top:3.85px;color:#fff">every<u>_</u>second<u>_</u>…</span><span class="t" style="left:0.00px;top:-10.01px;font-size:12px;line-height:12px;letter-spacing:0.000px;font-weight:400;color:#000;top:3.85px;left:auto;right:8.4px;color:#fff">1</span></div>
<span class="t" style="left:720.50px;top:714.15px;font-size:13px;line-height:13px;letter-spacing:0.066px;font-weight:400;color:#1f1f1f;-webkit-text-stroke:0.2px #1f1f1f">25</span>
<div class="chip p" style="left:671px;top:739px;width:114px;"><span class="t" style="left:5.20px;top:-10.01px;font-size:12px;line-height:12px;letter-spacing:0.336px;font-weight:400;color:#000;top:3.85px;color:#fff">temp<u>_</u>hire</span><span class="t" style="left:0.00px;top:-10.01px;font-size:12px;line-height:12px;letter-spacing:0.000px;font-weight:400;color:#000;top:3.85px;left:auto;right:8.4px;color:#fff">1</span></div>
<div class="chip r" style="left:671px;top:760px;width:114px;"><span class="t" style="left:5.20px;top:-10.01px;font-size:12px;line-height:12px;letter-spacing:-0.066px;font-weight:400;color:#000;top:3.85px;color:#fff">weekdays<u>_</u>wee…</span><span class="t" style="left:0.00px;top:-10.01px;font-size:12px;line-height:12px;letter-spacing:0.000px;font-weight:400;color:#000;top:3.85px;left:auto;right:8.4px;color:#fff">4</span></div>
<div class="chip y" style="left:671px;top:781px;width:114px;"><span class="t" style="left:5.20px;top:-10.01px;font-size:12px;line-height:12px;letter-spacing:0.107px;font-weight:400;color:#000;top:3.85px;color:#fff">colour<u>_</u>flags<u>_</u>s…</span><span class="t" style="left:0.00px;top:-10.01px;font-size:12px;line-height:12px;letter-spacing:0.000px;font-weight:400;color:#000;top:3.85px;left:auto;right:8.4px;color:#fff">3</span></div>
<div class="chip g" style="left:671px;top:802px;width:114px;"><span class="t" style="left:5.20px;top:-10.01px;font-size:12px;line-height:12px;letter-spacing:-0.114px;font-weight:400;color:#000;top:3.85px;color:#fff">every<u>_</u>second<u>_</u>…</span><span class="t" style="left:0.00px;top:-10.01px;font-size:12px;line-height:12px;letter-spacing:0.000px;font-weight:400;color:#000;top:3.85px;left:auto;right:8.4px;color:#fff">1</span></div>
<span class="t" style="left:843.50px;top:714.15px;font-size:13px;line-height:13px;letter-spacing:0.066px;font-weight:400;color:#1f1f1f;-webkit-text-stroke:0.2px #1f1f1f">26</span>
<div class="chip p" style="left:794px;top:739px;width:114px;"><span class="t" style="left:5.20px;top:-10.01px;font-size:12px;line-height:12px;letter-spacing:0.336px;font-weight:400;color:#000;top:3.85px;color:#fff">temp<u>_</u>hire</span><span class="t" style="left:0.00px;top:-10.01px;font-size:12px;line-height:12px;letter-spacing:0.000px;font-weight:400;color:#000;top:3.85px;left:auto;right:8.4px;color:#fff">1</span></div>
<div class="chip r" style="left:794px;top:760px;width:114px;"><span class="t" style="left:5.20px;top:-10.01px;font-size:12px;line-height:12px;letter-spacing:-0.066px;font-weight:400;color:#000;top:3.85px;color:#fff">weekdays<u>_</u>wee…</span><span class="t" style="left:0.00px;top:-10.01px;font-size:12px;line-height:12px;letter-spacing:0.000px;font-weight:400;color:#000;top:3.85px;left:auto;right:8.4px;color:#fff">4</span></div>
<div class="chip y" style="left:794px;top:781px;width:114px;"><span class="t" style="left:5.20px;top:-10.01px;font-size:12px;line-height:12px;letter-spacing:0.107px;font-weight:400;color:#000;top:3.85px;color:#fff">colour<u>_</u>flags<u>_</u>s…</span><span class="t" style="left:0.00px;top:-10.01px;font-size:12px;line-height:12px;letter-spacing:0.000px;font-weight:400;color:#000;top:3.85px;left:auto;right:8.4px;color:#fff">3</span></div>
<div class="chip g" style="left:794px;top:802px;width:114px;"><span class="t" style="left:5.20px;top:-10.01px;font-size:12px;line-height:12px;letter-spacing:-0.114px;font-weight:400;color:#000;top:3.85px;color:#fff">every<u>_</u>second<u>_</u>…</span><span class="t" style="left:0.00px;top:-10.01px;font-size:12px;line-height:12px;letter-spacing:0.000px;font-weight:400;color:#000;top:3.85px;left:auto;right:8.4px;color:#fff">1</span></div>
<span class="t" style="left:966.00px;top:714.15px;font-size:13px;line-height:13px;letter-spacing:0.066px;font-weight:400;color:#1f1f1f;-webkit-text-stroke:0.2px #1f1f1f">27</span>
<div class="chip p" style="left:917px;top:739px;width:113px;"><span class="t" style="left:5.20px;top:-10.01px;font-size:12px;line-height:12px;letter-spacing:0.336px;font-weight:400;color:#000;top:3.85px;color:#fff">temp<u>_</u>hire</span><span class="t" style="left:0.00px;top:-10.01px;font-size:12px;line-height:12px;letter-spacing:0.000px;font-weight:400;color:#000;top:3.85px;left:auto;right:8.4px;color:#fff">1</span></div>
<div class="chip r" style="left:917px;top:760px;width:113px;"><span class="t" style="left:5.20px;top:-10.01px;font-size:12px;line-height:12px;letter-spacing:-0.066px;font-weight:400;color:#000;top:3.85px;color:#fff">weekdays<u>_</u>wee…</span><span class="t" style="left:0.00px;top:-10.01px;font-size:12px;line-height:12px;letter-spacing:0.000px;font-weight:400;color:#000;top:3.85px;left:auto;right:8.4px;color:#fff">4</span></div>
<div class="chip y" style="left:917px;top:781px;width:113px;"><span class="t" style="left:5.20px;top:-10.01px;font-size:12px;line-height:12px;letter-spacing:0.107px;font-weight:400;color:#000;top:3.85px;color:#fff">colour<u>_</u>flags<u>_</u>s…</span><span class="t" style="left:0.00px;top:-10.01px;font-size:12px;line-height:12px;letter-spacing:0.000px;font-weight:400;color:#000;top:3.85px;left:auto;right:8.4px;color:#fff">3</span></div>
<div class="chip g" style="left:917px;top:802px;width:113px;"><span class="t" style="left:5.20px;top:-10.01px;font-size:12px;line-height:12px;letter-spacing:-0.114px;font-weight:400;color:#000;top:3.85px;color:#fff">every<u>_</u>second<u>_</u>…</span><span class="t" style="left:0.00px;top:-10.01px;font-size:12px;line-height:12px;letter-spacing:0.000px;font-weight:400;color:#000;top:3.85px;left:auto;right:8.4px;color:#fff">1</span></div>
<span class="t" style="left:1088.50px;top:714.15px;font-size:13px;line-height:13px;letter-spacing:0.066px;font-weight:400;color:#1f1f1f;-webkit-text-stroke:0.2px #1f1f1f">28</span>
<div class="chip p" style="left:1039px;top:739px;width:114px;"><span class="t" style="left:5.20px;top:-10.01px;font-size:12px;line-height:12px;letter-spacing:0.336px;font-weight:400;color:#000;top:3.85px;color:#fff">temp<u>_</u>hire</span><span class="t" style="left:0.00px;top:-10.01px;font-size:12px;line-height:12px;letter-spacing:0.000px;font-weight:400;color:#000;top:3.85px;left:auto;right:8.4px;color:#fff">1</span></div>
<div class="chip r" style="left:1039px;top:760px;width:114px;"><span class="t" style="left:5.20px;top:-10.01px;font-size:12px;line-height:12px;letter-spacing:-0.066px;font-weight:400;color:#000;top:3.85px;color:#fff">weekdays<u>_</u>wee…</span><span class="t" style="left:0.00px;top:-10.01px;font-size:12px;line-height:12px;letter-spacing:0.000px;font-weight:400;color:#000;top:3.85px;left:auto;right:8.4px;color:#fff">4</span></div>
<div class="chip y" style="left:1039px;top:781px;width:114px;"><span class="t" style="left:5.20px;top:-10.01px;font-size:12px;line-height:12px;letter-spacing:0.107px;font-weight:400;color:#000;top:3.85px;color:#fff">colour<u>_</u>flags<u>_</u>s…</span><span class="t" style="left:0.00px;top:-10.01px;font-size:12px;line-height:12px;letter-spacing:0.000px;font-weight:400;color:#000;top:3.85px;left:auto;right:8.4px;color:#fff">3</span></div>
<div class="chip g" style="left:1039px;top:802px;width:114px;"><span class="t" style="left:5.20px;top:-10.01px;font-size:12px;line-height:12px;letter-spacing:-0.114px;font-weight:400;color:#000;top:3.85px;color:#fff">every<u>_</u>second<u>_</u>…</span><span class="t" style="left:0.00px;top:-10.01px;font-size:12px;line-height:12px;letter-spacing:0.000px;font-weight:400;color:#000;top:3.85px;left:auto;right:8.4px;color:#fff">1</span></div>
<span class="t" style="left:1211.50px;top:714.15px;font-size:13px;line-height:13px;letter-spacing:0.066px;font-weight:400;color:#1f1f1f;-webkit-text-stroke:0.2px #1f1f1f">29</span>
<div class="chip p" style="left:1162px;top:739px;width:114px;"><span class="t" style="left:5.20px;top:-10.01px;font-size:12px;line-height:12px;letter-spacing:0.336px;font-weight:400;color:#000;top:3.85px;color:#fff">temp<u>_</u>hire</span><span class="t" style="left:0.00px;top:-10.01px;font-size:12px;line-height:12px;letter-spacing:0.000px;font-weight:400;color:#000;top:3.85px;left:auto;right:8.4px;color:#fff">1</span></div>
<div class="chip r" style="left:1162px;top:760px;width:114px;"><span class="t" style="left:5.20px;top:-10.01px;font-size:12px;line-height:12px;letter-spacing:-0.066px;font-weight:400;color:#000;top:3.85px;color:#fff">weekdays<u>_</u>wee…</span><span class="t" style="left:0.00px;top:-10.01px;font-size:12px;line-height:12px;letter-spacing:0.000px;font-weight:400;color:#000;top:3.85px;left:auto;right:8.4px;color:#fff">4</span></div>
<div class="chip y" style="left:1162px;top:781px;width:114px;"><span class="t" style="left:5.20px;top:-10.01px;font-size:12px;line-height:12px;letter-spacing:0.107px;font-weight:400;color:#000;top:3.85px;color:#fff">colour<u>_</u>flags<u>_</u>s…</span><span class="t" style="left:0.00px;top:-10.01px;font-size:12px;line-height:12px;letter-spacing:0.000px;font-weight:400;color:#000;top:3.85px;left:auto;right:8.4px;color:#fff">3</span></div>
<span class="t" style="left:1334.50px;top:714.15px;font-size:13px;line-height:13px;letter-spacing:0.066px;font-weight:400;color:#1f1f1f;-webkit-text-stroke:0.2px #1f1f1f">30</span>
<div class="chip p" style="left:1285px;top:739px;width:114px;"><span class="t" style="left:5.20px;top:-10.01px;font-size:12px;line-height:12px;letter-spacing:0.336px;font-weight:400;color:#000;top:3.85px;color:#fff">temp<u>_</u>hire</span><span class="t" style="left:0.00px;top:-10.01px;font-size:12px;line-height:12px;letter-spacing:0.000px;font-weight:400;color:#000;top:3.85px;left:auto;right:8.4px;color:#fff">1</span></div>
<div class="chip r" style="left:1285px;top:760px;width:114px;"><span class="t" style="left:5.20px;top:-10.01px;font-size:12px;line-height:12px;letter-spacing:-0.066px;font-weight:400;color:#000;top:3.85px;color:#fff">weekdays<u>_</u>wee…</span><span class="t" style="left:0.00px;top:-10.01px;font-size:12px;line-height:12px;letter-spacing:0.000px;font-weight:400;color:#000;top:3.85px;left:auto;right:8.4px;color:#fff">4</span></div>
<div class="chip y" style="left:1285px;top:781px;width:114px;"><span class="t" style="left:5.20px;top:-10.01px;font-size:12px;line-height:12px;letter-spacing:0.107px;font-weight:400;color:#000;top:3.85px;color:#fff">colour<u>_</u>flags<u>_</u>s…</span><span class="t" style="left:0.00px;top:-10.01px;font-size:12px;line-height:12px;letter-spacing:0.000px;font-weight:400;color:#000;top:3.85px;left:auto;right:8.4px;color:#fff">3</span></div>
</div>
</body></html>
